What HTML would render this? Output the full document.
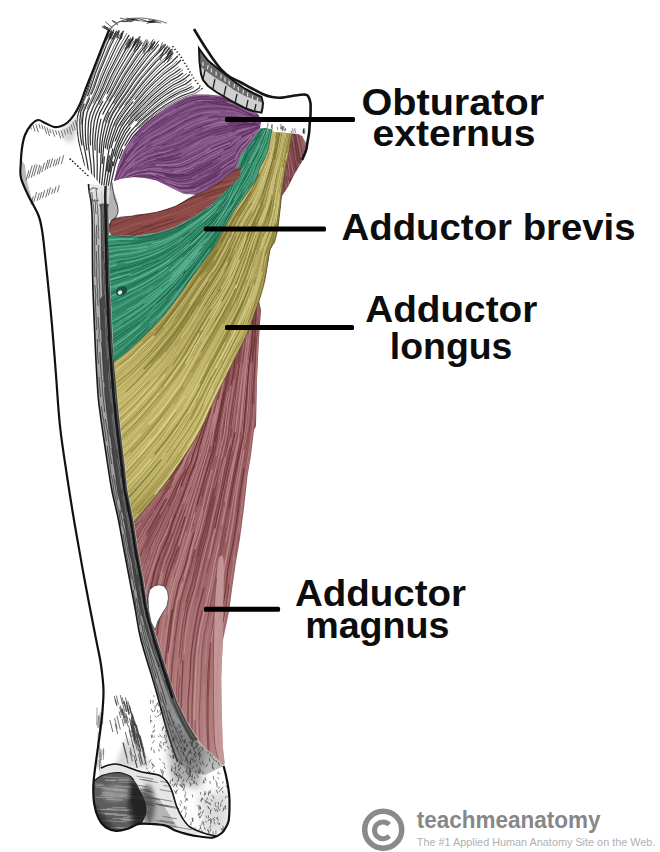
<!DOCTYPE html>
<html><head><meta charset="utf-8"><style>
html,body{margin:0;padding:0;background:#fff;}
svg{display:block;}
</style></head><body>
<svg width="660" height="852" viewBox="0 0 660 852">
<defs><filter id="bl" x="-20%" y="-20%" width="140%" height="140%"><feGaussianBlur stdDeviation="4"/></filter><filter id="bl2" x="-20%" y="-20%" width="140%" height="140%"><feGaussianBlur stdDeviation="2"/></filter><clipPath id="cf"><path d="M108.5,31.5L114.0,28.0L121.0,29.0L130.0,33.0L140.0,36.0L150.0,38.0L160.0,40.0L168.0,44.0L174.0,50.0L180.0,58.0L186.0,68.0L193.0,80.0L203.0,89.7L195.8,94.5L186.0,97.0L176.0,101.8L166.0,107.5L157.0,114.0L144.0,124.0L132.7,136.0L124.0,150.0L118.0,165.0L114.0,180.0L110.0,196.0L84.0,165.0L78.0,142.0L76.0,125.0L77.0,114.0L82.0,102.0L86.7,89.7L91.0,75.0L96.4,60.6L102.0,45.0L108.5,31.5Z"/></clipPath><clipPath id="crd"><path d="M88.5,184.0L89.0,190.0L92.0,213.0L92.7,280.0L95.0,340.0L96.5,370.0L98.5,400.0L102.5,430.0L107.0,460.0L111.8,490.0L118.5,520.0L124.0,550.0L129.7,580.0L135.4,610.0L141.0,640.0L155.0,687.0L168.0,734.0L177.6,762.0L190.0,772.0L205.0,775.0L224.0,766.0L224.6,764.0L215.0,756.5L202.0,745.0L188.9,724.6L177.6,702.0L166.3,668.0L159.0,645.0L155.0,632.0L151.0,620.0L147.5,605.0L143.8,580.0L138.2,550.0L134.0,522.0L127.8,490.0L124.5,460.0L121.0,430.0L118.0,400.0L115.0,365.0L113.0,340.0L110.3,280.0L109.0,213.0L109.0,195.0L110.0,186.0Z"/></clipPath><linearGradient id="rg" gradientUnits="userSpaceOnUse" x1="0" y1="186" x2="0" y2="780"><stop offset="0" stop-color="#e8e8e8"/><stop offset="0.1" stop-color="#b4b4b4"/><stop offset="0.4" stop-color="#a0a0a0"/><stop offset="0.7" stop-color="#9a9a9a"/><stop offset="0.88" stop-color="#8c8c8c"/><stop offset="1" stop-color="#c8c8c8"/></linearGradient><linearGradient id="mg" gradientUnits="userSpaceOnUse" x1="0" y1="300" x2="0" y2="770"><stop offset="0" stop-color="#82484e"/><stop offset="0.45" stop-color="#92585c"/><stop offset="1" stop-color="#b88484"/></linearGradient><clipPath id="cm"><path d="M292.0,133.5L298.0,134.0L302.0,136.0L306.0,143.0L305.0,151.0L303.4,159.0L300.0,165.0L296.0,171.5L292.0,179.0L288.0,187.0L282.0,196.0L275.0,227.0L268.0,250.0L262.0,280.0L258.0,296.0L261.0,310.0L259.0,338.0L257.0,380.0L256.0,426.0L254.0,430.0L251.0,455.0L247.5,476.0L244.0,508.0L240.0,538.5L236.0,562.0L232.5,586.0L229.0,612.0L223.0,640.0L221.0,677.0L221.8,715.0L222.7,745.0L224.6,764.0L215.0,756.5L202.0,745.0L188.9,724.6L177.6,702.0L166.3,668.0L159.0,645.0L155.0,632.0L151.0,620.0L147.5,605.0L143.8,580.0L138.2,550.0L134.0,522.0L150.0,503.0L165.0,484.0L175.0,470.0L185.0,455.0L194.0,441.0L202.5,426.0L211.0,407.0L220.0,388.0L234.0,360.0L247.5,333.0L254.0,315.0L260.4,296.4L265.0,279.5L270.0,250.0L274.5,242.0L278.0,227.0L280.0,210.0L282.0,191.0L283.7,178.6L286.0,165.0L289.0,150.4L292.0,133.5Z"/></clipPath><linearGradient id="yg" gradientUnits="userSpaceOnUse" x1="0" y1="130" x2="0" y2="525"><stop offset="0" stop-color="#988a44"/><stop offset="0.33" stop-color="#9c8e48"/><stop offset="0.5" stop-color="#a89a50"/><stop offset="0.66" stop-color="#c0b266"/><stop offset="0.85" stop-color="#bcae62"/><stop offset="1" stop-color="#a89a52"/></linearGradient><clipPath id="cy"><path d="M271.7,129.3L273.8,132.0L283.0,132.5L292.0,133.5L289.0,150.4L286.0,165.0L283.7,178.6L282.0,191.0L280.0,210.0L278.0,227.0L274.5,242.0L270.0,250.0L265.0,279.5L260.4,296.4L254.0,315.0L247.5,333.0L234.0,360.0L220.0,388.0L211.0,407.0L202.5,426.0L194.0,441.0L185.0,455.0L175.0,470.0L165.0,484.0L150.0,503.0L134.0,522.0L127.8,490.0L124.5,460.0L121.0,430.0L118.0,400.0L114.0,362.0L127.0,352.0L140.0,340.0L152.0,328.0L165.0,314.0L178.0,297.0L190.0,280.0L203.0,262.0L215.0,245.5L225.6,225.0L232.5,213.0L242.0,200.0L249.0,190.0L255.7,180.0L259.7,168.0L264.0,160.0L268.0,150.0L270.0,140.0L271.7,129.3Z"/></clipPath><clipPath id="cg"><path d="M259.7,128.6L265.0,128.0L271.7,129.3L270.0,140.0L268.0,150.0L264.0,160.0L259.7,168.0L255.7,180.0L249.0,190.0L242.0,200.0L232.5,213.0L225.6,225.0L215.0,245.5L203.0,262.0L190.0,280.0L178.0,297.0L165.0,314.0L152.0,328.0L140.0,340.0L127.0,352.0L114.0,362.0L111.0,300.0L108.0,235.0L111.4,235.0L134.0,236.0L156.8,232.7L175.0,227.0L195.5,215.7L213.6,203.0L227.0,189.5L230.0,176.0L234.0,165.0L240.0,152.0L248.0,140.0L254.0,132.0Z"/></clipPath><clipPath id="cr"><path d="M109.0,224.0L113.6,219.0L134.0,215.7L156.8,212.3L175.0,206.6L191.0,197.5L206.8,189.5L220.5,181.6L229.5,173.6L236.4,169.0L241.0,167.0L240.0,176.0L236.4,180.5L227.0,189.5L213.6,203.0L195.5,215.7L175.0,227.0L156.8,232.7L134.0,236.0L111.4,235.0L109.0,231.0Z"/></clipPath><clipPath id="cp"><path d="M114.0,181.0L118.0,165.0L124.0,150.0L132.7,136.0L144.0,124.0L157.0,114.0L166.0,107.5L176.0,101.8L186.0,97.0L195.8,94.5L208.0,94.5L220.0,95.8L232.0,100.0L243.0,106.0L251.0,110.5L258.0,114.0L261.0,120.0L260.0,128.5L254.0,138.0L247.6,146.7L240.0,157.0L236.4,169.0L229.5,173.6L220.5,181.6L206.8,189.5L196.0,194.5L184.0,194.0L172.7,188.4L156.8,180.5L145.0,178.0L134.0,177.0L122.0,178.5Z"/></clipPath><clipPath id="ct"><path d="M199.0,48.5L203.0,54.0L208.0,60.6L217.0,68.0L226.4,75.0L235.0,82.0L244.5,88.5L253.0,93.0L261.5,97.0L263.0,103.0L262.5,108.0L261.5,112.7L253.0,111.0L244.5,108.0L235.0,103.0L226.4,98.0L217.0,92.5L208.0,86.0L203.0,80.0L201.0,74.0L199.5,62.0Z"/></clipPath><clipPath id="cb"><path d="M96.0,700.0L103.0,690.0L230.0,690.0L232.0,840.0L90.0,840.0Z"/></clipPath><clipPath id="cst"><path d="M150.0,690.0L175.0,720.0L200.0,745.0L224.0,764.0L229.0,800.0L228.0,826.0L214.0,837.0L200.0,834.0L183.0,818.0L176.0,805.0L171.0,790.0L160.0,776.0L140.0,770.0L150.0,745.0Z"/></clipPath><clipPath id="cbd"><path d="M101.0,768.0C103.4,765.9 109.8,764.1 114.4,764.0C119.0,763.9 122.3,765.9 128.5,767.5C134.7,769.1 146.2,772.3 151.4,773.6C156.6,774.9 157.1,774.2 159.7,775.5C162.3,776.8 165.0,779.0 167.0,781.5C169.0,784.0 170.2,786.6 171.8,790.6C173.4,794.6 174.6,801.2 176.4,805.8C178.2,810.4 180.1,814.5 182.4,818.0C184.7,821.5 186.5,824.5 190.0,827.0C193.5,829.5 203.6,831.8 203.6,833.0C203.6,834.2 194.6,834.4 190.0,834.0C185.4,833.6 180.1,832.2 176.0,830.8C171.9,829.4 169.6,826.7 165.5,825.6C161.4,824.5 155.8,824.3 151.4,824.0C147.0,823.7 139.8,825.8 139.0,824.0C138.2,822.2 145.2,816.0 146.5,813.0C147.8,810.0 147.4,809.5 146.5,806.0C145.6,802.5 143.1,796.3 141.0,792.0C138.9,787.7 136.7,783.0 134.0,780.0C131.3,777.0 128.7,775.2 125.0,774.0C121.3,772.8 116.2,772.6 112.0,773.0C107.8,773.4 101.8,777.3 100.0,776.5C98.2,775.7 98.6,770.1 101.0,768.0Z"/></clipPath><clipPath id="ccd"><path d="M94.0,781.0C95.1,778.8 98.1,777.6 100.0,776.5C101.9,775.4 103.6,775.1 105.6,774.5C107.6,773.9 109.7,773.3 112.0,773.0C114.3,772.7 117.5,772.5 119.7,772.7C121.9,772.9 123.2,773.4 125.0,774.0C126.8,774.6 128.8,775.3 130.3,776.3C131.8,777.3 132.8,778.5 134.0,780.0C135.2,781.5 136.1,783.0 137.3,785.0C138.5,787.0 139.8,789.7 141.0,792.0C142.2,794.3 143.4,796.7 144.3,799.0C145.2,801.3 146.1,803.7 146.5,806.0C146.9,808.3 146.9,810.8 146.5,813.0C146.1,815.2 144.9,817.2 144.0,819.0C143.1,820.8 142.3,822.7 140.8,823.8C139.3,824.9 137.3,824.6 135.0,825.5C132.7,826.4 130.2,828.1 127.0,829.0C123.8,829.9 119.6,831.1 116.0,830.8C112.4,830.5 108.5,829.3 105.6,827.3C102.7,825.2 100.5,822.4 98.6,818.5C96.7,814.6 95.1,808.8 94.2,804.0C93.3,799.2 93.3,793.8 93.3,790.0C93.3,786.2 92.9,783.2 94.0,781.0Z"/></clipPath></defs>
<rect width="660" height="852" fill="#fff"/>
<path d="M109.0,30.0L101.0,50.0L94.0,68.0L86.0,88.0L80.0,104.0L74.0,115.0L67.0,123.0L60.0,126.5L54.0,127.0L45.0,123.0L38.0,120.0L31.0,125.0L25.0,135.0L22.0,148.0L20.7,165.0L21.0,178.0L28.0,195.0L38.7,216.0L42.6,234.0L45.0,255.0L49.0,293.6L52.0,325.0L56.0,375.0L60.0,426.0L67.0,476.0L75.0,526.0L85.0,582.0L96.0,639.0L101.0,665.0L103.5,690.0L102.0,716.0L98.6,743.0L95.0,769.0L93.3,787.0L94.2,804.0L98.6,818.5L105.6,827.3L116.0,830.8L127.0,829.0L139.0,824.0L151.4,824.0L165.5,825.6L176.0,830.8L188.0,834.4L200.0,836.5L212.7,837.6L221.8,833.0L226.0,827.0L228.6,821.0L229.4,810.0L229.4,798.0L228.0,786.0L226.0,775.5L223.6,766.0L224.6,764.0L215.0,756.5L202.0,745.0L188.9,724.6L177.6,702.0L166.3,668.0L159.0,645.0L155.0,632.0L151.0,620.0L147.5,605.0L143.8,580.0L138.2,550.0L134.0,522.0L127.8,490.0L124.5,460.0L121.0,430.0L118.0,400.0L115.0,365.0L113.0,340.0L110.3,280.0L109.0,213.0L109.0,195.0L110.0,186.0L112.0,180.0L115.0,175.0L135.0,144.0L160.0,122.0L181.0,101.0L195.0,90.0L185.0,60.0L170.0,30.0L150.0,17.0L125.0,19.0Z" fill="#fff" />
<g clip-path="url(#cf)"><path d="M108.0 34.2L104.7 40.9L101.9 47.6L99.3 54.5L96.8 61.4L94.2 68.3L91.6 75.2L89.5 82.3L87.4 89.4L84.8 96.2L82.1 103.1L79.2 109.9L77.4 117.0L76.7 124.3L77.4 131.6L78.2 139.0L79.7 146.2L81.5 153.3L83.3 160.5L84.8 167.7L86.1 174.9L87.3 182.2L88.5 189.5M113.7 30.0L110.2 37.1L106.9 44.1L104.0 51.4L101.1 58.7L98.2 66.0L95.4 73.3L93.0 80.9L90.5 88.3L87.6 95.7M84.1 104.1L80.8 111.8L79.8 120.1L79.9 128.5L80.6 136.8L81.9 145.0M117.7 32.0L114.2 38.7L110.9 45.3L108.0 52.1L105.1 58.9L102.2 65.8L99.3 72.7L96.8 79.8L94.4 86.9L91.5 93.8M89.6 98.2L86.6 105.0L83.7 111.8L82.6 119.1L82.3 126.4L82.6 133.7L83.1 141.0L84.4 148.2L85.8 155.4L87.2 162.6L88.2 169.9L89.0 177.3L89.9 184.6M121.6 36.8L117.8 43.3L114.6 49.9L111.4 56.7L108.3 63.5L105.1 70.4L102.2 77.3L99.5 84.4L96.6 91.4L93.5 98.3L90.2 105.3L87.1 112.3L85.7 119.7L85.3 127.2L85.4 134.8L85.8 142.3L86.9 149.8M128.8 35.5L125.1 41.8L121.4 47.9L118.1 54.3L114.8 60.7L111.5 67.2L108.2 73.8L105.4 80.5L102.6 87.3L99.5 94.0L96.2 100.7L92.9 107.4L90.1 114.2L88.6 121.4L88.1 128.7L88.0 136.0L88.2 143.3L89.1 150.5L90.0 157.8L91.0 165.1L91.5 172.5L92.0 179.9M132.9 38.3L129.0 44.4L125.2 50.4L121.7 56.7L118.3 63.0L114.8 69.4L111.4 75.9L108.5 82.5L105.5 89.2L102.1 95.8L98.7 102.4L95.3 109.0L92.7 115.9L91.0 123.1L90.6 130.3L90.2 137.6L90.5 144.9M139.9 36.6L135.9 42.9L131.7 48.8L128.0 54.8L124.3 61.0L120.6 67.3L117.0 73.7L113.6 80.2L110.5 86.9L107.1 93.5M102.8 101.3L99.3 107.8L96.2 114.5L94.3 121.4L93.4 128.6L92.8 135.7L92.6 142.9L93.0 150.0L93.4 157.2L94.0 164.4L94.2 171.7L94.4 179.1M141.9 42.7L137.5 48.6L133.4 54.4L129.5 60.7L125.6 66.9L121.7 73.3L118.0 79.8L114.6 86.5L111.0 93.1L107.3 99.7L103.5 106.3L99.8 113.1L97.6 120.3L96.3 127.6L95.4 135.0L94.9 142.5L95.1 149.9M147.0 43.8L142.4 49.7L138.0 55.4L133.8 61.6L129.7 67.9L125.5 74.2L121.7 80.7L118.0 87.4L114.2 94.0L110.2 100.6L106.3 107.4L102.7 114.3M101.0 119.2L99.2 126.5L98.1 134.0L97.2 141.4L97.2 148.9L97.1 156.4L97.3 164.0L97.2 171.7L97.0 179.4L96.9 187.1L96.8 194.7M155.0 41.9L150.4 47.9L145.7 53.2L141.3 58.9L137.0 64.8L132.8 70.9L128.6 77.0L124.8 83.4L121.0 89.8L116.9 96.2L112.9 102.6L108.9 109.2L105.5 116.0L103.0 123.0L101.6 130.3L100.3 137.6L99.7 145.0L99.4 152.4M158.5 44.9L153.9 50.4L149.3 55.4L144.9 60.8L140.6 66.4L136.4 72.1L132.2 77.9L128.3 84.0L124.5 90.1L120.5 96.2L116.4 102.2L112.5 108.5L108.9 114.9L106.3 121.6L104.5 128.6L103.0 135.6L101.9 142.7L101.4 149.8L100.9 156.9L100.7 164.1L100.2 171.4L99.7 178.7L99.3 186.0L98.8 193.3M165.4 44.5L160.8 50.3L155.8 55.2L151.1 60.3L146.5 65.8L142.0 71.4L137.5 77.1L133.3 83.0L129.3 89.1L125.1 95.2L120.9 101.2L116.7 107.4L112.7 113.8L109.7 120.5L107.5 127.5L105.8 134.5L104.2 141.6L103.5 148.8L102.8 156.0L102.3 163.3M169.7 47.9L165.0 53.4L159.9 58.1L155.1 62.8L150.5 68.0L145.9 73.3L141.3 78.7L137.0 84.4L132.9 90.2L128.7 96.0L124.4 101.9L120.1 107.8L116.1 113.9L112.8 120.3L110.3 127.0L108.4 133.9L106.5 140.7L105.5 147.7M104.4 156.8L103.7 164.4L103.0 172.0L102.2 179.7L101.4 187.4L100.6 195.1M172.8 52.6L168.1 57.9L162.9 62.1L158.0 66.6L153.2 71.6L148.5 76.7L143.9 81.9L139.5 87.4L135.3 92.9L131.0 98.6L126.6 104.2L122.3 110.0L118.2 116.0L114.9 122.2L112.3 128.8L110.3 135.5L108.3 142.2L107.2 149.1M177.5 56.2L172.1 61.8L166.3 66.3L160.7 71.0L155.2 76.3L149.9 81.7L144.7 87.3L139.9 93.3L135.0 99.3M132.8 101.9L128.2 107.5L123.8 113.3L119.8 119.3L116.3 125.5L113.9 132.2L111.6 138.9L109.8 145.7L108.5 152.6L107.3 159.6L106.4 166.7L105.5 173.8L104.5 181.0L103.6 188.1L102.6 195.3M180.7 60.2L175.6 65.3L170.0 69.4L164.6 73.4L159.4 78.1L154.2 82.9L149.1 87.9L144.3 93.2L139.7 98.6L135.0 104.1L130.2 109.6L125.7 115.4L121.5 121.4L118.0 127.6L115.4 134.3L112.9 141.0L111.1 147.9M109.5 155.8L108.2 163.2L107.1 170.8M180.1 68.9L174.6 73.1L168.9 76.5L163.5 80.9L158.2 85.4L153.0 90.1L148.0 95.1L143.2 100.2L138.4 105.5L133.5 110.8L128.9 116.3L124.5 122.1L120.7 128.0L117.9 134.6L115.2 141.1M112.8 149.0L111.3 155.5L109.9 162.0L108.9 168.6L107.8 175.3L106.7 182.1L105.6 188.8L104.6 195.5M182.7 73.3L177.4 77.1L171.7 80.1L166.4 84.0L161.2 88.0L156.1 92.3L151.1 96.8L146.4 101.6L141.7 106.4L137.0 111.3L132.3 116.2L128.1 121.6L124.1 127.2L120.8 133.0L118.2 139.2L115.5 145.4L113.8 151.9L112.1 158.4L110.7 165.0L109.6 171.8M189.6 74.5L184.4 78.9L178.7 82.1L173.0 85.0L167.5 88.8L162.2 92.7L156.9 96.8L151.9 101.3L147.0 105.9L142.2 110.6L137.3 115.3L132.7 120.3L128.4 125.7L124.5 131.1L121.5 137.2L118.6 143.3L116.2 149.6L114.4 156.1M112.8 161.9L111.5 168.6L110.2 175.4L108.9 182.1L107.7 188.9L106.5 195.7M191.3 79.6L186.3 83.6L180.7 86.2L175.1 88.7L169.8 92.1L164.6 95.6L159.5 99.3L154.6 103.3L149.8 107.6L145.1 111.9L140.4 116.2L135.8 120.7M130.2 127.4L126.0 133.0L122.8 139.2L119.6 145.5L117.2 152.1L115.1 158.9L113.3 165.7M191.9 86.5L186.4 89.4L180.5 91.5L175.0 94.4L169.6 97.6L164.4 101.1L159.2 104.7L154.3 108.7L149.5 112.8L144.7 116.9L139.8 121.1L135.6 125.8L131.4 130.7L127.7 135.7L124.6 141.3L121.6 146.8L119.2 152.7L117.2 158.7L115.2 164.7L113.8 171.0L112.4 177.2L111.0 183.4L109.7 189.7M199.5 87.7L194.2 91.4L188.2 93.5L182.2 95.6L176.5 98.5L170.9 101.7L165.4 105.0L160.2 108.7L155.0 112.6L150.0 116.7L145.0 120.7L140.3 125.1L135.9 129.9L131.6 134.7L128.2 140.1L124.9 145.7M122.6 149.7L121.0 154.0L119.3 158.3" fill="none" stroke="#111" stroke-width="1.25" opacity="0.85" stroke-linecap="round"/><path d="M111.4 30.4L108.2 37.0L105.0 43.6L102.5 50.4L99.9 57.2L97.3 64.0L94.6 70.8L92.3 77.8L90.2 84.8L87.7 91.7L85.1 98.5L82.3 105.3L79.4 112.0M115.5 32.6L112.0 39.3L108.9 46.0L106.0 53.0L103.2 59.9L100.2 66.9L97.5 73.9L95.1 81.1L92.6 88.2L89.7 95.2L86.7 102.2L83.7 109.2L81.9 116.5L81.2 124.1M120.6 33.7L117.0 40.3L113.7 46.8L110.6 53.6L107.6 60.4L104.5 67.3L101.5 74.2L99.0 81.2L96.3 88.3L93.3 95.2L90.1 102.1L87.0 109.0M126.9 33.3L123.0 40.2L119.1 46.7L115.7 53.6L112.4 60.5L109.0 67.5L105.7 74.5L102.8 81.7L99.9 89.0L96.5 96.1L93.1 103.2M128.9 39.0L124.9 45.5L121.2 52.0L117.7 58.7L114.2 65.5L110.6 72.3L107.5 79.3L104.5 86.4L101.2 93.4L97.7 100.4M134.0 40.9L129.9 46.9L126.2 52.8L122.7 59.1L119.2 65.3L115.6 71.7L112.3 78.2L109.3 84.8L106.1 91.4L102.7 97.9L99.2 104.5M141.0 40.4L136.7 46.6L132.5 52.6L128.6 58.8L124.7 65.2L120.8 71.7L117.1 78.3L113.7 85.1L110.2 91.9L106.4 98.6M147.5 40.0L143.2 46.1L138.8 51.6L134.8 57.3L130.9 63.3L127.0 69.4L123.1 75.5L119.6 81.9L116.1 88.3L112.5 94.7L108.7 101.0M153.5 39.3L148.8 45.7L143.9 51.5L139.4 57.5L135.0 63.8L130.7 70.2L126.3 76.7L122.4 83.5L118.6 90.3L114.4 97.0M158.7 40.9L154.0 47.2L149.0 52.7L144.3 58.4L139.8 64.5L135.2 70.7L130.7 77.0L126.7 83.6L122.7 90.2L118.4 96.8L114.0 103.4M108.9 112.0L106.8 116.7L105.0 121.5M162.2 45.7L157.5 51.3L152.6 56.2L148.0 61.5L143.6 67.1L139.1 72.8L134.7 78.6L130.7 84.7L126.8 90.8L122.6 96.9L118.4 103.0L114.3 109.3L110.7 115.8L107.8 122.6M168.0 46.8L163.3 52.5L158.2 57.1L153.5 62.0L148.9 67.4L144.3 72.8L139.7 78.3L135.5 84.1L131.4 90.0L127.2 96.0L122.9 101.9L118.7 107.9M173.2 49.3L168.2 55.0L162.8 59.8L157.7 64.5L152.7 69.8L147.8 75.3L143.0 80.8L138.4 86.6L134.0 92.6L129.5 98.6L124.9 104.6M171.9 58.0L166.4 62.8L160.9 67.3L155.8 72.4L150.7 77.7L145.6 83.2L140.9 88.9L136.3 94.8L131.6 100.7L126.8 106.6L122.3 112.8L118.1 119.2L114.7 125.9M177.0 61.0L172.0 65.7L166.7 69.4L161.6 73.7L156.7 78.3L151.8 83.1L147.0 87.9L142.5 93.2L138.1 98.5L133.6 103.8M178.4 66.7L173.0 70.9L167.5 74.4L162.2 78.9L157.1 83.4L152.0 88.1L147.1 93.1L142.5 98.3L137.8 103.6L133.1 108.9L128.4 114.3L124.1 120.1L120.4 126.0M182.8 69.7L177.3 74.2L171.3 77.6L165.7 81.7L160.2 86.1L154.8 90.8L149.7 95.7L144.7 100.9L139.8 106.1L134.8 111.4L130.0 116.9M186.3 73.8L180.8 78.3L174.7 81.3L169.0 85.0L163.4 89.1L157.9 93.5L152.6 98.0L147.6 102.9L142.6 107.9L137.5 113.0L132.6 118.2L128.1 123.8M186.6 80.2L180.9 83.6L175.0 86.2L169.4 89.9L163.9 93.7L158.5 97.8L153.4 102.1L148.4 106.7L143.5 111.4L138.5 116.0L133.8 121.0L129.4 126.3M191.2 83.8L185.6 87.3L179.6 89.6L173.9 92.7L168.2 96.1L162.8 99.8L157.5 103.8L152.4 108.1L147.4 112.4L142.4 116.9L137.5 121.4M193.7 87.6L188.2 90.6L182.2 92.6L176.6 95.4L171.1 98.5L165.7 101.9L160.5 105.5L155.5 109.5L150.6 113.6L145.6 117.7L140.7 121.8L136.4 126.5M200.5 89.9L195.0 93.6L188.7 95.4L182.5 97.6L176.5 100.5L170.7 103.8L165.0 107.1L159.7 111.1L154.4 115.1L149.2 119.1L143.9 123.2L139.3 128.0" fill="none" stroke="#333" stroke-width="1.0" opacity="0.75" stroke-linecap="round"/></g>
<path d="M132.8 21.0l-3.3 0.8M110.2 30.4l-5.8 -4.4M154.0 21.1l-3.1 0.6M109.5 30.7l-7.1 -3.6M110.4 31.1l-5.7 -3.7M145.5 20.5l-7.6 -1.9M117.6 23.1l-5.3 -2.5M134.0 19.1l-7.2 1.2M126.2 21.6l-7.2 -0.1M151.8 22.1l-5.3 -0.8M112.0 27.6l-6.4 -5.7M132.8 19.5l-6.6 -1.4M140.1 20.9l-8.2 -1.3M133.5 20.5l-6.8 1.1M155.7 20.7l-6.8 -0.8M160.7 23.0l-8.6 -2.2M154.0 22.3l-4.8 -1.0M126.3 21.3l-3.5 0.1M152.6 21.9l-5.7 1.4M111.1 29.4l-7.1 -3.3M153.8 21.3l-3.8 0.7M149.8 21.8l-8.0 -0.8M135.3 18.9l-8.5 1.9M137.4 20.1l-4.7 -0.6M137.2 19.1l-8.1 -0.3M128.3 19.9l-7.9 -1.7M157.7 22.2l-8.8 -0.1M117.7 24.8l-5.1 -3.6M109.6 31.3l-7.2 -5.1M154.6 21.9l-6.4 0.0M132.1 39.4l-4.4 8.8M141.0 41.3l-3.5 8.6M169.9 50.6l-3.9 8.4M170.4 49.3l-3.3 5.2M138.8 39.9l-4.8 10.1M133.1 36.5l-4.3 10.7M137.4 38.5l-4.4 8.7M154.2 43.0l-2.5 5.9M154.7 41.0l-6.3 11.0M163.6 44.6l-7.0 10.1M172.0 48.9l-4.1 5.6M138.8 41.1l-4.7 10.5M148.4 42.2l-4.5 11.2M129.7 39.1l-3.5 5.8M133.6 38.8l-5.1 8.1M136.3 39.1l-2.1 5.2M152.6 40.7l-3.8 9.4M167.5 45.6l-7.9 11.4M171.9 51.6l-4.9 7.7M152.3 43.2l-4.4 7.7M169.0 47.5l-3.0 5.9M136.5 40.8l-3.1 5.7M166.9 46.4l-6.3 9.4M158.0 41.8l-5.6 7.7M171.5 49.9l-6.3 9.9M170.9 51.2l-6.7 11.1M147.5 40.9l-4.1 10.7M128.8 35.3l-4.1 7.1M172.4 51.9l-4.7 9.9M154.4 43.3l-5.0 6.9M165.1 47.1l-4.8 13.0M139.9 39.0l-3.1 8.1M132.9 37.7l-4.1 6.0M173.1 53.9l-5.9 8.2M130.8 39.6l-5.5 8.8M135.8 39.0l-3.6 8.5M130.9 37.7l-6.1 12.1M146.0 39.6l-3.8 6.5M162.4 42.6l-2.6 7.2M136.4 39.6l-5.2 10.6M110.7 31.9l-4.3 7.8M122.6 33.6l-2.1 5.8M113.3 32.5l-3.2 5.8M116.3 30.9l-3.9 8.0M111.5 31.8l-2.3 6.7M110.7 33.0l-1.4 6.5M119.2 31.5l-1.7 6.1M115.6 32.2l-2.8 7.4M123.3 31.2l-2.0 7.4M122.4 31.7l-3.0 7.3M113.6 32.0l-2.7 6.9M118.7 30.4l-1.9 7.5M123.7 31.0l-4.0 7.6M110.8 33.5l-1.7 5.1M111.4 31.6l-1.3 6.6M119.3 30.9l-2.6 6.2M116.4 31.3l-1.5 4.8M121.7 32.8l-0.9 4.3" stroke="#222" stroke-width="0.9" fill="none" opacity="0.8" stroke-linecap="round"/>
<path d="M108.5,31.5C109.2,30.6 111.1,27.7 113.0,26.0C114.9,24.3 117.7,22.6 120.0,21.5C122.3,20.4 124.8,20.0 127.0,19.5C129.2,19.0 130.5,18.6 133.0,18.3C135.5,18.1 139.2,17.9 142.0,18.0C144.8,18.1 147.3,18.6 150.0,19.0C152.7,19.4 155.2,19.8 158.0,20.5C160.8,21.2 165.2,22.8 166.7,23.3" fill="none" stroke="#555" stroke-width="1.1" opacity="0.8"/>
<path d="M172.0 47.0l1.8 -0.6M174.1 49.7l1.8 -0.6M176.3 52.3l1.8 -0.6M178.4 55.0l1.8 -0.6M180.4 57.7l1.8 -0.6M182.2 60.6l1.8 -0.6M183.9 63.6l1.8 -0.6M185.7 66.5l1.8 -0.6M187.4 69.4l1.8 -0.6M189.1 72.4l1.8 -0.6M190.9 75.3l1.8 -0.6M192.6 78.3l1.8 -0.6M194.6 81.0l1.8 -0.6M196.7 83.7l1.8 -0.6M198.9 86.3l1.8 -0.6M201.0 89.0l1.8 -0.6" stroke="#333" stroke-width="1.2" fill="none"/>
<path d="M26.1 180.5l2.8 -10.1M28.6 178.2l3.6 -12.7M31.3 177.7l3.7 -13.2M33.9 176.2l3.3 -11.7M37.1 174.6l2.7 -9.7M39.1 174.2l2.3 -8.1M41.8 172.3l2.7 -9.6M45.0 170.4l2.9 -10.5M47.2 169.0l2.7 -9.7M49.9 167.8l2.7 -9.6M53.1 166.5l2.0 -7.1M55.5 166.1l2.1 -7.6M58.0 164.7l2.2 -8.0M61.3 163.9l2.5 -8.8M31.0 204.6l2.3 -8.2M33.7 202.5l2.9 -10.4M37.1 200.8l2.2 -7.9M39.6 199.7l2.2 -7.7M42.5 198.1l2.2 -8.0M45.7 197.4l2.4 -8.6M48.4 195.4l2.2 -8.0M51.5 194.2l1.5 -5.4M54.1 193.4l1.9 -6.8M57.4 192.3l2.0 -7.2M30.0 125.0l1.3 4.3M33.0 124.7l2.0 6.7M35.9 124.4l2.4 7.9M38.9 124.1l1.3 4.4M41.7 124.8l1.3 4.4M44.3 126.2l2.3 7.7M47.0 127.5l2.5 8.5M49.6 128.8l1.3 4.4M52.5 129.5l2.2 7.2M55.5 130.1l1.4 4.7M58.4 130.7l2.3 7.7M61.2 130.5l2.2 7.2M64.0 129.5l1.6 5.2M66.8 128.4l1.5 5.1M69.1 126.7l2.3 7.8M71.1 124.5l2.0 6.6M73.0 122.2l2.3 7.8M75.0 120.0l1.8 6.0" stroke="#333" stroke-width="0.9" fill="none" opacity="0.8"/>
<path d="M69.5 158.6l1.5 1M72.0 160.9l1.5 1M74.5 163.3l1.5 1M77.0 165.6l1.5 1M79.5 168.0l1.5 1M82.0 170.3l1.5 1M84.5 172.7l1.5 1M87.0 175.0l1.5 1" stroke="#222" stroke-width="1.3" fill="none"/>
<path d="M21.5,160.0C21.6,163.0 21.2,172.7 22.0,178.0C22.8,183.3 24.2,187.5 26.0,192.0C27.8,196.5 31.2,201.7 33.0,205.0C34.8,208.3 37.3,213.5 37.0,212.0C36.7,210.5 32.7,201.3 31.0,196.0C29.3,190.7 28.0,185.2 27.0,180.0C26.0,174.8 25.3,167.5 25.0,165.0" fill="#666" opacity="0.45"/>
<path d="M60.0,129.0C61.3,128.3 65.5,127.2 68.0,125.0C70.5,122.8 73.3,115.8 75.0,116.0C76.7,116.2 78.5,121.7 78.0,126.0C77.5,130.3 74.3,139.7 72.0,142.0C69.7,144.3 65.3,140.3 64.0,140.0" fill="#888" opacity="0.35" filter="url(#bl2)"/>
<path d="M88.5,184.0L89.0,190.0L92.0,213.0L92.7,280.0L95.0,340.0L96.5,370.0L98.5,400.0L102.5,430.0L107.0,460.0L111.8,490.0L118.5,520.0L124.0,550.0L129.7,580.0L135.4,610.0L141.0,640.0L155.0,687.0L168.0,734.0L177.6,762.0L190.0,772.0L205.0,775.0L224.0,766.0L224.6,764.0L215.0,756.5L202.0,745.0L188.9,724.6L177.6,702.0L166.3,668.0L159.0,645.0L155.0,632.0L151.0,620.0L147.5,605.0L143.8,580.0L138.2,550.0L134.0,522.0L127.8,490.0L124.5,460.0L121.0,430.0L118.0,400.0L115.0,365.0L113.0,340.0L110.3,280.0L109.0,213.0L109.0,195.0L110.0,186.0Z" fill="url(#rg)" />
<g clip-path="url(#crd)"><path d="M99.9,204.0C98.6,204.7 100.1,206.7 100.2,208.0C100.3,209.3 100.4,210.7 100.4,212.0C100.5,213.3 100.5,214.7 100.5,216.0C100.6,217.3 100.6,218.7 100.6,220.0C100.6,221.3 100.6,222.7 100.7,224.0C100.7,225.3 100.7,226.7 100.7,228.0C100.7,229.3 100.8,230.7 100.8,232.0C100.8,233.3 100.8,234.7 100.8,236.0C100.9,237.3 100.9,238.7 100.9,240.0C100.9,241.3 100.9,242.7 101.0,244.0C101.0,245.3 101.0,246.7 101.0,248.0C101.0,249.3 101.1,250.7 101.1,252.0C101.1,253.3 101.1,254.7 101.1,256.0C101.2,257.3 101.2,258.7 101.2,260.0C101.2,261.3 101.2,262.7 101.3,264.0C101.3,265.3 101.3,266.7 101.3,268.0C101.3,269.3 101.4,270.7 101.4,272.0C101.4,273.3 101.4,274.7 101.4,276.0C101.5,277.3 101.5,278.7 101.5,280.0C101.5,281.3 101.6,282.7 101.7,284.0C101.7,285.3 101.8,286.7 101.8,288.0C101.9,289.3 101.9,290.7 102.0,292.0C102.1,293.3 102.5,294.7 102.2,296.0C101.8,297.3 100.2,298.7 99.9,300.0C99.5,301.3 100.0,302.7 100.0,304.0C100.1,305.3 100.1,306.7 100.2,308.0C100.2,309.3 100.3,310.7 100.3,312.0C100.4,313.3 100.4,314.7 100.5,316.0C100.6,317.3 100.6,318.7 100.7,320.0C100.7,321.3 100.8,322.7 100.8,324.0C100.9,325.3 100.9,326.7 101.0,328.0C101.0,329.3 101.1,330.7 101.2,332.0C101.2,333.3 101.3,334.7 101.3,336.0C101.4,337.3 101.4,338.7 101.5,340.0C101.5,341.3 101.6,342.7 101.7,344.0C101.8,345.3 101.9,346.7 102.0,348.0C102.0,349.3 102.1,350.7 102.2,352.0C102.3,353.3 102.4,354.7 102.5,356.0C102.5,357.3 102.6,358.7 102.7,360.0C102.8,361.3 102.9,362.7 102.9,364.0C103.0,365.3 103.1,366.7 103.2,368.0C103.3,369.3 103.4,370.7 103.5,372.0C103.6,373.3 103.7,374.7 103.8,376.0C103.9,377.3 104.0,378.7 104.0,380.0C104.1,381.3 104.2,382.7 104.3,384.0C104.4,385.3 104.5,386.7 104.6,388.0C104.7,389.3 104.8,390.7 104.9,392.0C105.0,393.3 105.1,394.7 105.2,396.0C105.3,397.3 105.4,398.7 105.5,400.0C105.6,401.3 105.8,402.7 106.0,404.0C106.2,405.3 106.3,406.7 106.5,408.0C106.7,409.3 106.8,410.7 107.0,412.0C107.1,413.3 107.3,414.7 107.5,416.0C107.6,417.3 107.8,418.7 107.9,420.0C108.1,421.3 108.3,422.7 108.4,424.0C108.6,425.3 108.8,426.7 108.9,428.0C109.1,429.3 109.3,430.7 109.4,432.0C109.6,433.3 109.8,434.7 110.0,436.0C110.2,437.3 110.4,438.7 110.5,440.0C110.7,441.3 110.9,442.7 111.1,444.0C111.3,445.3 111.5,446.7 111.6,448.0C111.8,449.3 112.0,450.7 112.2,452.0C112.4,453.3 112.6,454.7 112.7,456.0C112.9,457.3 113.1,458.7 113.3,460.0C113.5,461.3 113.7,462.7 113.9,464.0C114.1,465.3 114.2,466.7 114.4,468.0C114.6,469.3 114.8,470.7 115.0,472.0C115.2,473.3 115.4,474.7 115.6,476.0C115.8,477.3 116.0,478.7 116.1,480.0C116.3,481.3 116.5,482.7 116.7,484.0C116.9,485.3 117.1,486.7 117.3,488.0C117.5,489.3 117.7,490.7 118.0,492.0C118.2,493.3 118.6,494.7 118.8,496.0C119.1,497.3 119.4,498.7 119.7,500.0C120.0,501.3 120.3,502.7 120.5,504.0C120.8,505.3 121.1,506.7 121.4,508.0C121.7,509.3 122.0,510.7 122.2,512.0C122.5,513.3 122.8,514.7 123.1,516.0C123.4,517.3 123.7,518.7 123.9,520.0C124.2,521.3 124.4,522.7 124.7,524.0C124.9,525.3 125.1,526.7 125.3,528.0C125.6,529.3 125.8,530.7 126.0,532.0C126.3,533.3 126.5,534.7 126.7,536.0C126.9,537.3 127.2,538.7 127.4,540.0C127.6,541.3 127.9,542.7 128.1,544.0C128.3,545.3 128.5,546.7 128.8,548.0C129.0,549.3 129.2,550.7 129.5,552.0C129.7,553.3 130.0,554.7 130.2,556.0C130.5,557.3 130.7,558.7 131.0,560.0C131.3,561.3 131.5,562.7 131.8,564.0C132.0,565.3 132.3,566.7 132.5,568.0C132.8,569.3 133.0,570.7 133.3,572.0C133.5,573.3 133.8,574.7 134.0,576.0C134.3,577.3 134.5,578.7 134.8,580.0C135.0,581.3 135.2,582.7 135.5,584.0C135.7,585.3 135.9,586.7 136.2,588.0C136.4,589.3 136.6,590.7 136.9,592.0C137.1,593.3 137.3,594.7 137.6,596.0C137.8,597.3 138.0,598.7 138.3,600.0C138.5,601.3 138.8,602.7 139.1,604.0C139.4,605.3 139.7,606.7 140.0,608.0C140.4,609.3 140.7,610.7 141.0,612.0C141.3,613.3 141.6,614.7 142.0,616.0C142.3,617.3 142.6,618.7 142.9,620.0C143.3,621.3 143.7,622.7 144.1,624.0C144.4,625.3 144.8,626.7 145.2,628.0C145.6,629.3 146.0,630.7 146.4,632.0C146.7,633.3 147.1,634.7 147.5,636.0C147.9,637.3 148.2,638.7 148.6,640.0C149.0,641.3 149.5,642.7 150.0,644.0C150.5,645.3 150.9,646.7 151.4,648.0C151.9,649.3 152.3,650.7 152.8,652.0C153.3,653.3 153.7,654.7 154.2,656.0C154.7,657.3 155.1,658.7 155.6,660.0C156.1,661.3 156.5,662.7 157.0,664.0C157.5,665.3 157.9,666.7 158.4,668.0C158.9,669.3 159.4,670.7 159.9,672.0C160.3,673.3 160.8,674.7 161.3,676.0C161.8,677.3 162.3,678.7 162.7,680.0C163.2,681.3 163.7,682.7 164.2,684.0C164.7,685.3 165.2,686.7 165.6,688.0C166.1,689.3 166.6,690.7 167.1,692.0C167.5,693.3 168.0,694.7 168.5,696.0C169.0,697.3 169.4,698.7 169.9,700.0C170.4,701.3 171.0,702.7 171.6,704.0C172.1,705.3 172.8,706.7 173.4,708.0C174.1,709.3 174.7,710.7 175.3,712.0C176.0,713.3 176.6,714.7 177.2,716.0C177.9,717.3 178.5,718.7 179.2,720.0C179.8,721.3 180.4,722.7 181.1,724.0C181.8,725.3 182.6,726.7 183.4,728.0C184.2,729.3 185.0,730.7 185.8,732.0C186.6,733.3 187.4,734.7 188.2,736.0C189.1,737.3 189.2,739.3 190.7,740.0C192.3,740.7 196.9,740.7 197.6,740.0C198.4,739.3 196.0,737.3 195.1,736.0C194.3,734.7 193.4,733.3 192.6,732.0C191.8,730.7 190.9,729.3 190.1,728.0C189.3,726.7 188.4,725.3 187.7,724.0C186.9,722.7 186.4,721.3 185.7,720.0C185.0,718.7 184.4,717.3 183.7,716.0C183.1,714.7 182.4,713.3 181.8,712.0C181.1,710.7 180.5,709.3 179.8,708.0C179.2,706.7 178.4,705.3 177.8,704.0C177.2,702.7 176.7,701.3 176.2,700.0C175.7,698.7 175.3,697.3 174.9,696.0C174.4,694.7 174.0,693.3 173.6,692.0C173.1,690.7 172.7,689.3 172.2,688.0C171.8,686.7 171.4,685.3 170.9,684.0C170.5,682.7 170.0,681.3 169.6,680.0C169.2,678.7 168.7,677.3 168.3,676.0C167.8,674.7 167.4,673.3 166.9,672.0C166.5,670.7 166.1,669.3 165.6,668.0C165.2,666.7 164.8,665.3 164.4,664.0C163.9,662.7 163.5,661.3 163.1,660.0C162.7,658.7 162.2,657.3 161.8,656.0C161.4,654.7 161.0,653.3 160.6,652.0C160.1,650.7 159.7,649.3 159.3,648.0C158.9,646.7 158.4,645.3 158.0,644.0C157.6,642.7 157.2,641.3 156.8,640.0C156.4,638.7 156.0,637.3 155.6,636.0C155.2,634.7 154.8,633.3 154.4,632.0C154.0,630.7 153.5,629.3 153.1,628.0C152.6,626.7 152.2,625.3 151.8,624.0C151.3,622.7 150.8,621.3 150.5,620.0C150.1,618.7 149.8,617.3 149.5,616.0C149.2,614.7 148.9,613.3 148.6,612.0C148.3,610.7 148.0,609.3 147.7,608.0C147.4,606.7 147.1,605.3 146.8,604.0C146.6,602.7 146.4,601.3 146.2,600.0C146.0,598.7 145.8,597.3 145.6,596.0C145.4,594.7 145.2,593.3 145.0,592.0C144.8,590.7 144.6,589.3 144.4,588.0C144.2,586.7 144.0,585.3 143.8,584.0C143.6,582.7 143.5,581.3 143.2,580.0C143.0,578.7 142.7,577.3 142.5,576.0C142.2,574.7 142.0,573.3 141.7,572.0C141.5,570.7 141.2,569.3 141.0,568.0C140.7,566.7 140.5,565.3 140.2,564.0C140.0,562.7 139.7,561.3 139.5,560.0C139.3,558.7 139.0,557.3 138.8,556.0C138.5,554.7 138.2,553.3 138.0,552.0C137.8,550.7 137.5,549.3 137.3,548.0C137.1,546.7 136.9,545.3 136.7,544.0C136.5,542.7 136.3,541.3 136.1,540.0C135.9,538.7 135.7,537.3 135.5,536.0C135.3,534.7 135.1,533.3 134.9,532.0C134.7,530.7 134.5,529.3 134.3,528.0C134.1,526.7 133.9,525.3 133.7,524.0C133.5,522.7 133.3,521.3 133.0,520.0C132.8,518.7 132.5,517.3 132.2,516.0C132.0,514.7 131.7,513.3 131.4,512.0C131.2,510.7 130.9,509.3 130.7,508.0C130.4,506.7 130.1,505.3 129.9,504.0C129.6,502.7 129.4,501.3 129.1,500.0C128.8,498.7 128.6,497.3 128.3,496.0C128.1,494.7 127.8,493.3 127.5,492.0C127.3,490.7 127.1,489.3 126.9,488.0C126.8,486.7 126.6,485.3 126.5,484.0C126.3,482.7 126.2,481.3 126.0,480.0C125.9,478.7 125.7,477.3 125.6,476.0C125.4,474.7 125.3,473.3 125.1,472.0C125.0,470.7 124.8,469.3 124.7,468.0C124.5,466.7 124.4,465.3 124.2,464.0C124.1,462.7 124.0,461.3 123.8,460.0C123.6,458.7 123.5,457.3 123.3,456.0C123.2,454.7 123.0,453.3 122.9,452.0C122.7,450.7 122.5,449.3 122.4,448.0C122.2,446.7 122.1,445.3 121.9,444.0C121.8,442.7 121.6,441.3 121.4,440.0C121.3,438.7 121.1,437.3 121.0,436.0C120.8,434.7 120.6,433.3 120.5,432.0C120.3,430.7 120.2,429.3 120.1,428.0C119.9,426.7 119.8,425.3 119.7,424.0C119.5,422.7 119.4,421.3 119.2,420.0C119.1,418.7 119.0,417.3 118.8,416.0C118.7,414.7 118.6,413.3 118.4,412.0C118.3,410.7 118.2,409.3 118.0,408.0C117.9,406.7 117.8,405.3 117.6,404.0C117.5,402.7 117.3,401.3 117.2,400.0C117.1,398.7 117.0,397.3 116.9,396.0C116.8,394.7 116.7,393.3 116.5,392.0C116.4,390.7 116.3,389.3 116.2,388.0C116.1,386.7 116.0,385.3 115.9,384.0C115.7,382.7 115.6,381.3 115.5,380.0C115.4,378.7 115.3,377.3 115.2,376.0C115.1,374.7 115.0,373.3 114.8,372.0C114.7,370.7 114.6,369.3 114.5,368.0C114.4,366.7 114.3,365.3 114.2,364.0C114.1,362.7 114.0,361.3 113.9,360.0C113.8,358.7 113.6,357.3 113.5,356.0C113.4,354.7 113.3,353.3 113.2,352.0C113.1,350.7 113.0,349.3 112.9,348.0C112.8,346.7 112.7,345.3 112.6,344.0C112.5,342.7 112.4,341.3 112.3,340.0C112.2,338.7 112.2,337.3 112.1,336.0C112.0,334.7 112.0,333.3 111.9,332.0C111.9,330.7 111.8,329.3 111.7,328.0C111.7,326.7 111.6,325.3 111.6,324.0C111.5,322.7 111.4,321.3 111.4,320.0C111.3,318.7 111.3,317.3 111.2,316.0C111.1,314.7 111.1,313.3 111.0,312.0C111.0,310.7 110.9,309.3 110.8,308.0C110.8,306.7 110.7,305.3 110.7,304.0C110.6,302.7 110.6,301.3 110.5,300.0C110.4,298.7 110.4,297.3 110.3,296.0C110.3,294.7 110.2,293.3 110.1,292.0C110.1,290.7 110.0,289.3 110.0,288.0C109.9,286.7 109.8,285.3 109.8,284.0C109.7,282.7 109.6,281.3 109.6,280.0C109.6,278.7 109.5,277.3 109.5,276.0C109.5,274.7 109.5,273.3 109.4,272.0C109.4,270.7 109.4,269.3 109.4,268.0C109.3,266.7 109.3,265.3 109.3,264.0C109.3,262.7 109.2,261.3 109.2,260.0C109.2,258.7 109.2,257.3 109.1,256.0C109.1,254.7 109.1,253.3 109.1,252.0C109.0,250.7 109.0,249.3 109.0,248.0C109.0,246.7 108.9,245.3 108.9,244.0C108.9,242.7 108.9,241.3 108.8,240.0C108.8,238.7 108.8,237.3 108.8,236.0C108.7,234.7 108.7,233.3 108.7,232.0C108.7,230.7 108.6,229.3 108.6,228.0C108.6,226.7 108.6,225.3 108.5,224.0C108.5,222.7 108.5,221.3 108.5,220.0C108.4,218.7 108.4,217.3 108.4,216.0C108.4,214.7 108.3,213.3 108.3,212.0C108.3,210.7 108.3,209.3 108.3,208.0C108.3,206.7 109.7,204.7 108.3,204.0C106.9,203.3 101.3,203.3 99.9,204.0Z" fill="#3c3c3c" opacity="0.9"/></g>
<g clip-path="url(#crd)"><path d="M91.8,192.0L92.2,197.0L92.8,202.0L93.5,207.0L94.1,212.0L94.4,217.0L94.1,222.0L94.5,227.0L94.4,232.0L94.6,237.0L94.6,242.0L94.7,247.0L94.8,252.0L94.9,257.0L94.7,262.0L94.7,267.0L94.9,272.0L95.0,277.0M94.7,285.0L95.4,290.0L95.8,295.0L95.5,300.0L95.5,305.0L95.7,310.0L96.1,315.0L96.2,320.0L96.9,325.0L96.4,330.0M97.2,339.0L97.6,344.0L97.4,349.0L97.6,354.0L98.1,359.0L98.5,364.0M98.9,377.0L99.3,382.0L99.7,387.0L100.1,392.0L100.8,397.0M101.4,406.0L102.1,411.0L102.6,416.0L103.8,421.0L104.1,426.0L104.9,431.0L105.8,436.0L106.3,441.0M107.4,446.0L107.7,451.0L108.6,456.0L109.6,461.0L110.0,466.0L110.6,471.0L111.2,476.0L112.7,481.0L113.3,486.0L113.8,491.0L115.1,496.0L116.2,501.0L117.1,506.0L118.7,511.0L119.6,516.0L120.3,521.0L121.0,526.0M123.1,534.0L123.9,539.0L124.7,544.0L125.3,549.0L126.2,554.0L127.3,559.0L128.2,564.0L129.6,569.0L130.3,574.0L131.3,579.0M133.3,590.0L133.9,595.0L135.3,600.0L135.6,605.0L137.2,610.0L138.2,615.0L139.2,620.0L139.6,625.0M141.0,632.0L142.4,637.0L143.5,642.0L145.4,647.0L146.6,652.0L148.4,657.0L149.4,662.0L151.3,667.0L152.5,672.0L154.4,677.0L155.3,682.0L157.4,687.0L158.3,692.0L160.0,697.0L161.4,702.0M162.4,706.0L163.9,711.0L165.3,716.0L167.0,721.0L168.6,726.0L170.4,731.0L171.9,736.0L174.0,741.0L175.5,746.0L177.9,751.0L180.2,756.0L182.9,761.0M94.6,199.0L95.4,204.0L95.5,209.0L96.1,214.0M96.6,225.0L96.5,230.0L96.1,235.0L96.5,240.0L96.3,245.0M96.4,251.0L96.5,256.0L96.6,261.0L96.9,266.0L96.6,271.0L96.6,276.0L97.1,281.0L97.0,286.0L97.7,291.0L97.6,296.0L97.9,301.0L97.8,306.0M98.1,317.0L98.3,322.0L98.9,327.0L99.2,332.0L98.9,337.0L99.4,342.0M99.7,352.0L100.1,357.0L100.3,362.0L100.6,367.0L101.1,372.0L101.2,377.0L102.2,382.0L102.2,387.0L102.6,392.0L103.1,397.0L103.6,402.0L104.3,407.0L104.6,412.0M105.2,419.0L106.1,424.0L107.0,429.0L107.9,434.0L108.4,439.0L109.1,444.0L109.7,449.0L110.0,454.0L110.9,459.0L111.7,464.0M113.3,475.0L114.2,480.0L115.1,485.0L115.9,490.0L116.8,495.0L117.5,500.0M120.0,510.0L120.9,515.0L122.1,520.0L122.7,525.0L124.1,530.0L125.2,535.0L125.7,540.0L126.7,545.0L127.7,550.0L128.1,555.0L129.7,560.0L130.3,565.0L131.0,570.0L131.8,575.0L132.9,580.0L134.0,585.0L135.0,590.0M136.2,598.0L137.2,603.0L137.9,608.0L139.6,613.0L139.9,618.0L141.6,623.0L142.4,628.0L143.5,633.0L144.6,638.0L145.7,643.0L147.7,648.0L149.3,653.0L150.6,658.0L152.0,663.0L153.1,668.0L155.2,673.0L156.3,678.0M160.7,692.0L162.4,697.0L163.3,702.0L165.3,707.0L166.5,712.0L168.2,717.0L169.9,722.0L172.3,727.0M176.4,739.0L178.7,744.0L181.3,749.0L183.7,754.0L186.6,759.0L191.0,764.0M96.1,189.0L96.5,194.0L97.0,199.0L97.1,204.0L97.8,209.0L97.9,214.0L98.3,219.0L98.1,224.0L98.5,229.0L98.0,234.0L98.6,239.0M98.6,245.0L98.6,250.0L98.6,255.0L98.9,260.0L99.0,265.0L99.1,270.0L99.2,275.0L99.0,280.0L99.6,285.0L99.7,290.0L99.9,295.0L99.8,300.0L100.0,305.0L100.3,310.0L100.8,315.0L100.7,320.0L100.9,325.0L101.0,330.0M101.2,342.0L102.1,347.0L102.5,352.0L102.7,357.0L102.9,362.0L103.3,367.0L103.3,372.0L103.9,377.0L103.9,382.0M104.6,387.0L104.8,392.0L104.9,397.0L105.9,402.0L106.4,407.0L106.8,412.0L107.4,417.0L108.1,422.0L108.6,427.0L109.1,432.0L110.5,437.0M111.9,448.0L112.3,453.0L113.3,458.0L113.5,463.0L114.6,468.0L115.2,473.0L116.2,478.0L116.2,483.0L117.5,488.0L117.9,493.0L119.3,498.0L120.7,503.0L121.0,508.0L122.2,513.0M123.4,519.0L125.0,524.0L125.8,529.0L126.3,534.0L127.1,539.0L128.2,544.0L128.6,549.0L129.5,554.0L131.1,559.0M132.5,566.0L133.5,571.0L134.0,576.0L134.7,581.0L135.7,586.0L137.0,591.0L137.9,596.0L138.2,601.0L139.6,606.0L140.3,611.0L141.4,616.0M143.8,625.0L144.4,630.0L145.9,635.0L146.7,640.0L148.7,645.0L149.6,650.0L151.2,655.0L153.2,660.0L154.4,665.0L156.4,670.0L157.9,675.0L159.3,680.0L160.4,685.0L162.4,690.0L164.1,695.0L165.2,700.0L166.5,705.0M168.8,710.0L170.2,715.0L172.0,720.0L173.8,725.0L176.2,730.0L178.4,735.0L180.3,740.0L182.8,745.0L186.1,750.0M190.7,758.0L195.2,763.0" fill="none" stroke="#2a2a2a" stroke-width="0.9" opacity="0.75"/><path d="M101.4,191.0L102.1,196.0L101.9,201.0L102.2,206.0L102.5,211.0L102.2,216.0L102.7,221.0L102.6,226.0L102.6,231.0L103.2,236.0L102.7,241.0L102.9,246.0L103.4,251.0M103.3,260.0L103.1,265.0L103.8,270.0L103.9,275.0L103.2,280.0L103.8,285.0L104.2,290.0L104.2,295.0M104.6,309.0L105.1,314.0L105.4,319.0L105.4,324.0L105.8,329.0L106.1,334.0L106.1,339.0L106.4,344.0L107.1,349.0L107.3,354.0L107.5,359.0M108.7,373.0L108.6,378.0L109.3,383.0L109.4,388.0L110.0,393.0L110.7,398.0L111.2,403.0M112.2,414.0L112.5,419.0L113.4,424.0L113.9,429.0L114.1,434.0L115.2,439.0L116.0,444.0L116.5,449.0M117.4,459.0L118.0,464.0L119.0,469.0L119.6,474.0L120.3,479.0L120.8,484.0L121.8,489.0M122.8,495.0L123.8,500.0L125.0,505.0L125.6,510.0L126.6,515.0L127.7,520.0L128.4,525.0L129.4,530.0L130.5,535.0L131.2,540.0L131.8,545.0L132.9,550.0L133.4,555.0L134.9,560.0L135.4,565.0L136.4,570.0L137.2,575.0M139.7,586.0L139.9,591.0L141.0,596.0L141.8,601.0L142.5,606.0L144.2,611.0L144.6,616.0L146.1,621.0L147.7,626.0L149.2,631.0L149.9,636.0L151.5,641.0L153.2,646.0L154.2,651.0L155.9,656.0L158.0,661.0M159.4,667.0L161.1,672.0L162.4,677.0L164.0,682.0L166.3,687.0L167.7,692.0L169.2,697.0L170.4,702.0L172.5,707.0L174.8,712.0M177.6,718.0L179.2,723.0L181.6,728.0L184.6,733.0L186.9,738.0L189.1,743.0L192.9,748.0L197.3,753.0L201.1,758.0L206.3,763.0M103.8,203.0L103.7,208.0L103.8,213.0L104.3,218.0L104.0,223.0L104.4,228.0L104.0,233.0L104.2,238.0L104.1,243.0L104.5,248.0L104.3,253.0L104.4,258.0L104.5,263.0M104.8,270.0L105.3,275.0L105.2,280.0L105.5,285.0L105.2,290.0L105.6,295.0L105.5,300.0L106.2,305.0L106.2,310.0M106.3,316.0L106.6,321.0L106.9,326.0L107.6,331.0L107.6,336.0M107.4,341.0L108.4,346.0L108.3,351.0L108.9,356.0L109.3,361.0L109.8,366.0L109.4,371.0L110.1,376.0L110.5,381.0M111.1,389.0L111.9,394.0L112.1,399.0L112.2,404.0L113.1,409.0L113.5,414.0L113.9,419.0L114.5,424.0L115.4,429.0L115.6,434.0L116.4,439.0L117.2,444.0L117.9,449.0L118.2,454.0L119.3,459.0L119.6,464.0L120.6,469.0M121.3,478.0L121.9,483.0L122.9,488.0L123.5,493.0L124.5,498.0L125.9,503.0M127.3,512.0L128.2,517.0L129.1,522.0L129.9,527.0L131.2,532.0L131.9,537.0L132.9,542.0L133.8,547.0L134.2,552.0M135.6,560.0L136.9,565.0L137.8,570.0L139.0,575.0L139.9,580.0L140.2,585.0L141.3,590.0L141.7,595.0L142.7,600.0L143.5,605.0L144.3,610.0L145.7,615.0L146.7,620.0L148.3,625.0L149.6,630.0L150.9,635.0L152.4,640.0M155.7,650.0L157.0,655.0L158.4,660.0L160.2,665.0L161.8,670.0L163.2,675.0L165.1,680.0M168.1,689.0L169.2,694.0L171.0,699.0L172.8,704.0L174.7,709.0L177.2,714.0L179.1,719.0L181.6,724.0L184.3,729.0L186.8,734.0L189.5,739.0L192.2,744.0M197.7,750.0L201.9,755.0L206.5,760.0M106.9,189.0L106.7,194.0L106.3,199.0L106.5,204.0L106.9,209.0L106.9,214.0L106.8,219.0L106.9,224.0L106.8,229.0L106.9,234.0L106.9,239.0M107.2,251.0L107.7,256.0L107.1,261.0L107.3,266.0L107.7,271.0L107.6,276.0L107.8,281.0L108.5,286.0L108.0,291.0L108.3,296.0L108.5,301.0L109.1,306.0L109.0,311.0L109.0,316.0L109.7,321.0L109.8,326.0L109.9,331.0M110.4,338.0L110.8,343.0L111.1,348.0L111.7,353.0L112.2,358.0L112.1,363.0L112.5,368.0L113.3,373.0L113.3,378.0L114.0,383.0L114.4,388.0L114.8,393.0L115.5,398.0L115.8,403.0M116.0,407.0L116.6,412.0L116.9,417.0L117.4,422.0L118.3,427.0L118.7,432.0L119.0,437.0L119.7,442.0L120.3,447.0L120.8,452.0L121.7,457.0L122.0,462.0L122.5,467.0M123.7,473.0L123.8,478.0L124.7,483.0L125.5,488.0L126.1,493.0L126.9,498.0M129.0,509.0L130.1,514.0L131.3,519.0L132.4,524.0L132.9,529.0L133.9,534.0L134.3,539.0L135.5,544.0L135.9,549.0L136.8,554.0L138.1,559.0L139.1,564.0L140.0,569.0L140.8,574.0L141.6,579.0L142.6,584.0L143.3,589.0M144.4,599.0L145.4,604.0L146.7,609.0L147.5,614.0L148.6,619.0L149.9,624.0L152.0,629.0L153.8,634.0L155.2,639.0L156.1,644.0L158.1,649.0L159.5,654.0L161.2,659.0L162.6,664.0L164.6,669.0L166.3,674.0M166.6,677.0L168.1,682.0L170.0,687.0L172.0,692.0L173.8,697.0L174.7,702.0L177.2,707.0L179.3,712.0L182.1,717.0L184.4,722.0L186.9,727.0L189.8,732.0L193.2,737.0L196.2,742.0M204.0,751.0L209.2,756.0L215.1,761.0" fill="none" stroke="#999" stroke-width="0.8" opacity="0.6"/></g>
<g clip-path="url(#crd)"><path d="M105.7,186.0L105.4,190.0L105.2,194.0L105.2,198.0L105.3,202.0L105.4,206.0L105.5,210.0L105.6,214.0L105.7,218.0L105.8,222.0L105.8,226.0L105.9,230.0L106.0,234.0L106.0,238.0L106.1,242.0L106.2,246.0L106.3,250.0L106.3,254.0L106.4,258.0L106.5,262.0L106.5,266.0L106.6,270.0L106.7,274.0L106.7,278.0L106.9,282.0L107.0,286.0L107.2,290.0L107.4,294.0L107.6,298.0L107.7,302.0L107.9,306.0L108.1,310.0L108.3,314.0L108.4,318.0L108.6,322.0L108.8,326.0L109.0,330.0L109.1,334.0L109.3,338.0L109.5,342.0L109.8,346.0L110.1,350.0L110.4,354.0L110.7,358.0L111.0,362.0L111.3,366.0L111.6,370.0L112.0,374.0L112.3,378.0L112.6,382.0L113.0,386.0L113.3,390.0L113.6,394.0L113.9,398.0L114.3,402.0L114.7,406.0L115.2,410.0L115.6,414.0L116.0,418.0L116.4,422.0L116.9,426.0L117.3,430.0L117.8,434.0L118.3,438.0L118.8,442.0L119.3,446.0L119.8,450.0L120.3,454.0L120.8,458.0L121.2,462.0L121.7,466.0L122.2,470.0L122.7,474.0L123.2,478.0L123.6,482.0L124.1,486.0L124.6,490.0L125.4,494.0L126.2,498.0L127.0,502.0L127.8,506.0L128.6,510.0L129.4,514.0L130.2,518.0L131.0,522.0L131.6,526.0L132.2,530.0L132.9,534.0L133.5,538.0L134.1,542.0L134.7,546.0L135.4,550.0L136.1,554.0L136.9,558.0L137.6,562.0L138.4,566.0L139.1,570.0L139.9,574.0L140.6,578.0L141.3,582.0L141.9,586.0L142.5,590.0L143.2,594.0L143.8,598.0L144.4,602.0L145.1,606.0L146.0,610.0L146.9,614.0L147.8,618.0L148.9,622.0L150.1,626.0L151.3,630.0L152.5,634.0L153.6,638.0L154.8,642.0L156.0,646.0L157.3,650.0L158.5,654.0L159.8,658.0L161.0,662.0L162.3,666.0L163.6,670.0L164.9,674.0L166.2,678.0L167.5,682.0L168.8,686.0L170.1,690.0L171.3,694.0L172.6,698.0" fill="none" stroke="#111" stroke-width="2.5" opacity="0.9"/></g>
<path d="M88.5,184.0C88.6,185.0 88.4,185.2 89.0,190.0C89.6,194.8 91.4,198.0 92.0,213.0C92.6,228.0 92.2,258.8 92.7,280.0C93.2,301.2 94.4,325.0 95.0,340.0C95.6,355.0 95.9,360.0 96.5,370.0C97.1,380.0 97.5,390.0 98.5,400.0C99.5,410.0 101.1,420.0 102.5,430.0C103.9,440.0 105.5,450.0 107.0,460.0C108.5,470.0 109.9,480.0 111.8,490.0C113.7,500.0 116.5,510.0 118.5,520.0C120.5,530.0 122.1,540.0 124.0,550.0C125.9,560.0 127.8,570.0 129.7,580.0C131.6,590.0 133.5,600.0 135.4,610.0C137.3,620.0 137.7,627.2 141.0,640.0C144.3,652.8 150.5,671.3 155.0,687.0C159.5,702.7 164.2,721.5 168.0,734.0C171.8,746.5 176.0,757.3 177.6,762.0" fill="none" stroke="#1a1a1a" stroke-width="1.6"/>
<path d="M98.0,189.0C97.2,188.8 94.4,187.7 93.0,188.0C91.6,188.3 90.0,189.5 89.5,191.0C89.0,192.5 89.2,195.3 90.0,197.0C90.8,198.7 92.5,200.5 94.0,201.0C95.5,201.5 98.2,200.2 99.0,200.0" fill="none" stroke="#555" stroke-width="1"/>
<path d="M111.0,182.0C111.8,180.7 112.9,188.7 114.0,192.0C115.1,195.3 116.8,198.8 117.5,202.0C118.2,205.2 118.2,208.3 118.0,211.0C117.8,213.7 117.3,216.2 116.0,218.0C114.7,219.8 111.2,225.0 110.0,222.0C108.8,219.0 108.8,206.7 109.0,200.0C109.2,193.3 110.2,183.3 111.0,182.0Z" fill="#9a9a9a" opacity="0.75"/>
<path d="M111.6,181.6C112.1,184.3 113.4,193.4 114.4,197.6C115.4,201.8 117.2,204.2 117.7,207.0C118.2,209.8 118.1,212.3 117.3,214.5C116.5,216.7 113.7,219.1 113.0,220.0" fill="none" stroke="#444" stroke-width="1"/>
<path d="M292.0,133.5L298.0,134.0L302.0,136.0L306.0,143.0L305.0,151.0L303.4,159.0L300.0,165.0L296.0,171.5L292.0,179.0L288.0,187.0L282.0,196.0L275.0,227.0L268.0,250.0L262.0,280.0L258.0,296.0L261.0,310.0L259.0,338.0L257.0,380.0L256.0,426.0L254.0,430.0L251.0,455.0L247.5,476.0L244.0,508.0L240.0,538.5L236.0,562.0L232.5,586.0L229.0,612.0L223.0,640.0L221.0,677.0L221.8,715.0L222.7,745.0L224.6,764.0L215.0,756.5L202.0,745.0L188.9,724.6L177.6,702.0L166.3,668.0L159.0,645.0L155.0,632.0L151.0,620.0L147.5,605.0L143.8,580.0L138.2,550.0L134.0,522.0L150.0,503.0L165.0,484.0L175.0,470.0L185.0,455.0L194.0,441.0L202.5,426.0L211.0,407.0L220.0,388.0L234.0,360.0L247.5,333.0L254.0,315.0L260.4,296.4L265.0,279.5L270.0,250.0L274.5,242.0L278.0,227.0L280.0,210.0L282.0,191.0L283.7,178.6L286.0,165.0L289.0,150.4L292.0,133.5Z" fill="url(#mg)" />
<g clip-path="url(#cm)" opacity="0.6" fill="none" stroke-linecap="round" stroke-linejoin="round"><path d="M186 454L183 458L181 462L178 466L176 470L173 473L171 477L168 481L165 485L163 488L160 492M197 435L195 442L192 449L189 456L186 463L183 470M159 574L156 587L152 601L150 615M226 386L223 401L220 417L217 433L214 448L210 463L205 479L201 494L197 510L193 525M235 358L233 376L229 394L226 412L224 431L221 449M219 454L215 471L210 489L206 507L202 524L197 542L192 560M174 648L172 665L171 682M214 620L210 646L208 672L207 698L207 725L208 751M229 584L226 608L221 632L218 656L217 680L217 705L218 729L219 753" stroke="#5a2024" stroke-width="1.00"/><path d="M159 493L156 497L153 501L150 506L146 510M196 439L193 447L190 455L187 463L183 471M169 506L165 514L161 522L158 529L154 537L151 545L148 553L145 560L142 568M169 536L165 546L161 556L158 566L155 576L152 586L150 596L148 606M216 397L213 408L210 419L208 431L205 442L202 453L198 464L195 476L191 487M172 569L169 582L165 596L163 609L161 623L159 637M176 612L174 628L172 644L170 660L169 676M225 459L220 479L216 500L211 520L206 540L201 561L197 581L191 602M194 604L189 625L187 647L185 669L183 691L183 713M188 674L187 697L186 719M248 331L247 351L244 371L241 391L239 412L237 432L233 451M251 329L248 354L245 380L243 405L241 431M258 305L256 334L254 364L252 393" stroke="#b57c7c" stroke-width="1.00"/><path d="M145 511L142 516L138 521L134 525M170 489L167 494L164 500L161 505L158 510L155 515L152 521L149 526L146 531L143 536L140 542L138 547M183 470L180 476L176 483L173 489L170 495L167 501L164 508L160 514M205 424L202 433L199 442L197 451L194 460L191 468L187 477L184 486L180 495L177 504L173 513L170 521M208 413L206 423L203 432L200 442L197 452M210 453L205 469L200 486L195 502L191 518M173 577L170 592L167 606L164 621L162 636L161 650M191 533L186 548L182 563L177 578L173 593M172 597L169 613L167 628L165 644L163 659M191 531L187 545L183 560L179 574L174 588L171 602L169 617L167 631L165 646M234 380L231 400L228 420L226 439L221 459M240 364L237 384L234 404L231 424L229 444L223 463L218 483M196 663L195 687L194 710L194 733M252 320L251 343L248 367L246 390L244 414L242 437M204 685L204 716L205 747M254 404L252 430L248 457L244 483L241 509L237 535L233 561M258 337L257 361L256 386L255 411L252 435L249 460L245 484L242 509L239 533M235 556L231 581L227 607L222 632L220 658L219 684L219 710L220 736L222 762" stroke="#c99494" stroke-width="1.00"/><path d="M185 454L183 458L181 462L178 466L176 470L173 474L170 478M153 513L149 518L146 523L143 529L140 534L137 539M167 499L163 505L160 511L156 518L153 524L150 530L146 537M160 514L157 521L153 527L150 533L148 539L145 545L142 551L140 557M181 491L178 500L174 509L170 518L167 527L163 536L159 544L156 553L153 562L150 571L147 580L145 589M185 510L180 523L175 537L171 551L165 564M218 397L215 411L212 425L209 438L206 452L202 465L197 479L193 492L189 505M195 721L195 728L195 734M256 338L255 363L253 388L252 413L249 438L245 462" stroke="#5a2024" stroke-width="0.70"/><path d="M169 480L166 484L163 488L160 493L157 497L154 501L151 505M151 506L148 510L144 514L141 518L138 522M146 534L142 542L138 551M196 437L193 444L191 450L188 456L185 462L183 468L180 474L177 480L174 486L170 492L167 498M146 537L142 545L139 553M201 428L198 437L195 445L192 454L189 462M175 497L171 504L168 512L164 520L160 528L156 536L153 544L150 552M211 407L208 419L205 431L201 442L198 454M212 405L209 416L206 426L203 437L200 447L198 458M213 402L210 414L207 426L204 437L201 449M195 565L189 586L183 607L180 628L178 649M176 661L175 677L174 692M242 364L239 385L236 405L234 425L231 445M215 531L210 552L205 572L201 593L195 614L191 635L189 656L187 677L186 698L186 719M224 506L220 529L215 551L210 573L206 596M215 640L213 663L213 686L213 710L213 733L214 756" stroke="#b57c7c" stroke-width="1.30"/><path d="M138 522L136 524L135 526M207 416L205 425L202 434L199 443L196 451L193 460L190 469L187 478L183 487M168 543L164 554L160 565L157 577L154 588L151 600L149 611M210 443L207 456L203 469L199 483L195 496L191 510L187 523L183 536L179 550L175 563M189 570L184 588L180 606L177 624L174 642M240 348L238 368L235 387L232 407L229 427L226 446M178 669L177 684L176 698M230 448L225 469L221 490L216 511L212 532L206 553L202 575L197 596M229 470L225 490L221 511L217 531L212 552L207 572M240 440L236 463L231 486L228 509L223 533L219 556M226 528L222 549L217 571L213 592L209 613L204 634L202 656L201 677L200 699L199 721L200 742" stroke="#6c2e30" stroke-width="0.70"/><path d="M185 456L182 461L179 466L177 470L174 475L171 480L168 484L165 489M182 474L178 481L175 488L172 494L169 501L165 508L162 514L158 521L155 528L152 534L149 541L146 548M175 495L171 503L168 511L164 518L161 526L157 533L153 541L150 548L148 556L145 563M182 510L177 522L173 534L168 547L163 559L160 571M228 372L225 391L221 410L218 429M229 369L227 385L224 401L221 417L218 434L215 450L211 466L206 481L202 497M195 549L191 566L186 583L181 599L178 616L176 633L174 650L172 667L171 683M211 504L206 524L201 543L196 563L192 582L186 602M223 458L218 476L214 494L210 512L206 530L201 548L197 567L192 585L187 603L183 621L181 639L179 657M240 363L237 382L235 401L232 419L230 438L225 457" stroke="#6c2e30" stroke-width="1.00"/><path d="M163 492L160 496L157 500L154 504L151 508L148 512L145 516L143 520M173 480L171 485L168 490L165 495L162 499L159 504L156 509L153 514L150 519M195 439L193 445L190 451L187 456L185 462L182 468L179 474L176 480L173 486L170 491L167 497M202 427L199 435L196 443L194 450L191 458L188 466L184 474L181 482L178 489M179 489L176 497L172 505L169 514L165 522L161 530L158 538L154 546L151 554M149 560L146 569L143 578M203 428L200 437L197 445L195 454L192 463L188 471M187 476L183 485L179 494L176 503L172 512L168 521L164 530L160 539L156 548L153 557L150 566L147 575M195 464L191 475L187 486L184 497L180 507L176 518L171 529M158 610L156 621L155 632M205 470L201 484L197 499L193 513L189 527L185 541L180 555L176 569M166 627L164 641L162 655M200 507L195 523L190 540L186 556L181 572L176 589L173 605M184 611L180 632L178 653L176 674L175 695M240 438L235 459L231 480L227 501L223 522L219 543M251 375L250 399L248 423L244 446L240 470L236 494L233 518L229 541L224 565L220 589L216 612M256 309L255 331L253 354L251 377L250 400L249 422L245 444M220 620L215 646L213 674L213 701L214 728L215 755" stroke="#c99494" stroke-width="0.70"/><path d="M141 523L138 527L135 531M150 519L146 525L143 530L140 536L137 541M173 540L168 553L163 566L160 579L157 592L154 605L151 618M228 392L225 408L222 424L220 440L216 456M203 510L199 528L193 545L189 563L184 581L179 599M231 438L226 457L222 477L218 497L213 517L209 536L204 556L199 575L194 595L189 614L186 634L184 654M252 356L249 380L248 403L246 426L242 449L238 473L234 496L230 519L226 542" stroke="#d4a4a2" stroke-width="1.00"/><path d="M188 452L185 458L182 463L179 468L177 473L174 478L171 484L168 489L164 494L161 499L158 504L155 509M165 500L161 507L158 513L154 520L151 526L147 532M186 469L182 477L179 484L176 491L173 498L169 506M218 470L214 488L210 505L206 523L201 540L197 557M215 497L211 516L207 534L202 552L198 571L194 589L188 607L185 626L183 644L181 663M180 677L179 690L178 704M202 611L197 635L194 659L193 682L192 706L192 730M210 649L209 675L208 700L208 726L209 752" stroke="#6c2e30" stroke-width="1.30"/><path d="M190 448L188 453L185 458L183 463L180 468L177 473L174 478M172 517L169 526L165 536L160 545L157 555L154 565L151 575L148 584L146 594M214 400L212 411L209 423L206 434L203 446L200 457L196 469L192 480L188 491L184 503M163 573L160 585L157 597L155 609L153 620M214 414L211 427L208 440L205 452L201 465L197 477L193 490L189 503L185 515L181 528L177 540M186 532L182 546L178 560L173 574L169 588L166 602L164 617L162 631L160 645" stroke="#c99494" stroke-width="1.30"/><path d="M192 446L189 452L186 457L184 463L181 468L178 474L175 479L172 485M218 400L215 414L212 427L210 440L207 453L203 466L199 480L195 493L191 506L187 519L183 532L179 545M223 383L220 399L216 415L213 431M224 380L221 396L218 413L214 429L211 446M195 513L191 527L187 541L182 556L178 570L173 585L170 599L168 614M212 470L207 488L203 506L198 524L193 542L189 560L184 577M182 583L177 601L174 619L172 637L169 655L168 673M231 386L228 402L226 419L224 435L220 451L216 468L212 484L208 500L204 517L200 533L195 549M247 334L245 356L242 377L239 399L237 421M245 356L242 376L240 397L237 417L235 437L230 457L226 477L222 497L218 518L213 538L209 558M250 326L248 348L245 370L243 392L241 414L239 436L234 458L229 479L225 501M247 360L245 381L243 402L241 422L238 443L234 463L230 484L226 504L222 525M219 544L214 566L210 588L205 609L200 631L197 653L196 675L195 697L194 719M244 450L240 474L236 498L233 522L229 546L224 570L220 594L215 618L211 642" stroke="#d4a4a2" stroke-width="1.30"/><path d="M144 553L142 557L140 561M150 553L146 563L143 573M194 461L190 471L186 482L182 492L178 502L174 513M174 548L169 561L165 575L162 589L159 602L156 616L154 630M225 378L222 393L219 408L216 423L214 438L211 452L206 467M228 386L225 402L222 417L219 433L217 449L212 465L208 481L204 497L200 512L196 528M233 361L231 378L228 395L225 412L222 429L220 446L215 463L211 480L206 496M188 615L184 637L182 660L180 683L179 706M204 576L199 600L193 623L190 647L188 670M252 404L251 427L247 450L243 473L240 496L236 520L233 543L229 566L225 589L221 612L216 635" stroke="#b57c7c" stroke-width="0.70"/><path d="M202 428L199 437L196 445L193 453L190 461L187 469L184 477L180 485L177 493M167 529L163 538L159 547L156 556L153 564L150 573L148 582L145 591M200 453L196 465L192 476L188 487L184 499L180 510L176 522L172 533M189 494L185 506L181 517L177 528L173 540M217 394L214 406L211 419L208 431L205 443L203 455L199 467L195 479L191 491L187 503M215 442L211 458L207 474L202 490L198 507L194 523M238 364L235 382L232 399L229 417L227 435L223 453L219 470L214 488M244 341L241 363L238 384L235 406L232 428M221 532L216 556L211 580L206 604L200 627L197 651M216 567L212 589L208 610L203 631L200 653L199 674L198 696L197 717L198 739M222 562L218 588L213 613L207 638L205 664M259 300L259 324L257 348L256 372L255 396" stroke="#d4a4a2" stroke-width="0.70"/><path d="M204 422L202 430L199 438L196 446L193 454L191 462L187 470L184 478L181 486M211 408L208 418L205 428L202 438L199 448L197 458L193 468L189 478L186 488L182 498L179 507M176 513L172 523L169 533L165 543L161 553L157 563L154 572L152 582L149 592L147 602M195 464L191 474L187 484L184 494L180 504L176 514L172 525L169 535L165 545L160 555M160 557L156 568L153 580L150 592L147 604M185 517L181 530L177 542L173 554L168 567L165 579L162 592L160 604M178 548L173 562L168 577L164 591L162 606L159 621L157 635M224 392L221 406L218 421L215 435L213 449L209 463L205 477L201 491L197 505M172 610L169 628L167 646L165 664M194 533L189 550L185 567L179 583L175 600L172 617L170 634L168 652M183 661L182 685L181 709M235 433L230 456L225 480L220 504L215 528M204 588L198 610L194 633L191 655L190 678L188 701L188 723M253 317L252 341L249 365L247 389L245 413L243 437L238 460L233 484L229 508M256 310L255 336L252 362M244 469L240 494L237 519L233 544L228 569L225 594L220 619" stroke="#5a2024" stroke-width="1.30"/></g>
<g clip-path="url(#cm)" opacity="0.6" fill="none" stroke-linecap="round"><path d="M260 215l-11 -57M250 157l-8 -39M259 160l-9 -50M279 212l-6 -25M270 162l-10 -44M284 211l-7 -48M287 176l-5 -31M296 163l-7 -49M313 206l-9 -46M320 165l-8 -50M316 126l-6 -34M328 127l-5 -28" stroke="#c49498" stroke-width="0.70"/><path d="M262 215l-12 -57M275 176l-9 -47M286 210l-7 -45M303 207l-6 -27M308 206l-7 -37M334 174l-4 -20M343 200l-10 -57" stroke="#b58388" stroke-width="0.70"/><path d="M251 152l-6 -49M264 214l-13 -56M253 139l-9 -58M269 213l-10 -53M271 213l-6 -28M259 141l-9 -53M273 213l-4 -25M280 160l-9 -57M284 179l-8 -47M297 208l-12 -55M298 162l-4 -29M301 167l-5 -32M295 130l-7 -38M299 134l-9 -58M316 205l-11 -57M313 152l-3 -21M324 153l-10 -48M329 158l-12 -52" stroke="#5e2a32" stroke-width="1.30"/><path d="M254 157l-7 -32M258 163l-4 -23M268 184l-4 -30M272 132l-6 -44M290 210l-4 -26M290 139l-9 -49M305 175l-9 -45M305 137l-4 -28M320 204l-7 -35M332 202l-10 -46M337 201l-7 -38M330 151l-8 -59M337 173l-7 -46" stroke="#b58388" stroke-width="1.30"/><path d="M267 214l-9 -50M275 158l-6 -31M299 208l-4 -20M312 206l-9 -44M305 145l-7 -56M310 161l-5 -22M313 168l-6 -26M324 204l-7 -51M327 203l-7 -34M331 202l-10 -46M339 201l-4 -21" stroke="#c49498" stroke-width="1.30"/><path d="M265 181l-8 -38M262 149l-12 -54M281 211l-4 -31M288 210l-8 -46M293 209l-4 -31M304 207l-9 -42M309 129l-6 -34M329 203l-9 -50M341 201l-3 -22" stroke="#5e2a32" stroke-width="0.70"/><path d="M275 212l-8 -41M278 212l-7 -45M269 164l-9 -53M277 160l-5 -26M277 131l-7 -45M298 180l-6 -38M295 124l-5 -33M317 205l-8 -42M323 156l-7 -29" stroke="#5e2a32" stroke-width="1.00"/><path d="M267 167l-10 -44M274 185l-4 -22M281 140l-7 -41M294 209l-6 -29M290 178l-7 -54M288 144l-11 -51M307 207l-8 -43M305 154l-6 -43M322 204l-7 -48M315 149l-5 -26M334 202l-5 -43M333 141l-8 -52" stroke="#c49498" stroke-width="1.00"/><path d="M288 150l-6 -45M296 187l-8 -41M293 131l-11 -54M310 206l-5 -29M304 156l-4 -22M309 140l-5 -20M319 148l-5 -36M327 159l-7 -31M321 126l-4 -27" stroke="#b58388" stroke-width="1.00"/></g>
<path d="M219.0,558.0C220.2,555.0 222.8,553.0 223.5,560.0C224.2,567.0 223.7,586.7 223.5,600.0C223.3,613.3 222.8,626.7 222.5,640.0C222.2,653.3 221.6,666.7 221.5,680.0C221.4,693.3 221.8,708.3 222.0,720.0C222.2,731.7 222.6,742.8 223.0,750.0C223.4,757.2 225.3,761.5 224.5,763.0C223.7,764.5 219.7,762.8 218.0,759.0C216.3,755.2 215.2,749.8 214.5,740.0C213.8,730.2 213.7,715.0 213.5,700.0C213.3,685.0 213.3,665.8 213.5,650.0C213.7,634.2 214.0,617.0 214.5,605.0C215.0,593.0 215.8,585.8 216.5,578.0C217.2,570.2 217.8,561.0 219.0,558.0Z" fill="#c89c9c" opacity="0.85"/>
<path d="M216.5,578.0C216.2,582.5 215.0,593.0 214.5,605.0C214.0,617.0 213.7,634.2 213.5,650.0C213.3,665.8 213.3,685.0 213.5,700.0C213.7,715.0 213.8,730.2 214.5,740.0C215.2,749.8 217.4,755.8 218.0,759.0" fill="none" stroke="#6a3034" stroke-width="0.8" opacity="0.7"/>
<path d="M271.7,129.3L273.8,132.0L283.0,132.5L292.0,133.5L289.0,150.4L286.0,165.0L283.7,178.6L282.0,191.0L280.0,210.0L278.0,227.0L274.5,242.0L270.0,250.0L265.0,279.5L260.4,296.4L254.0,315.0L247.5,333.0L234.0,360.0L220.0,388.0L211.0,407.0L202.5,426.0L194.0,441.0L185.0,455.0L175.0,470.0L165.0,484.0L150.0,503.0L134.0,522.0L127.8,490.0L124.5,460.0L121.0,430.0L118.0,400.0L114.0,362.0L127.0,352.0L140.0,340.0L152.0,328.0L165.0,314.0L178.0,297.0L190.0,280.0L203.0,262.0L215.0,245.5L225.6,225.0L232.5,213.0L242.0,200.0L249.0,190.0L255.7,180.0L259.7,168.0L264.0,160.0L268.0,150.0L270.0,140.0L271.7,129.3Z" fill="url(#yg)" />
<g clip-path="url(#cy)" opacity="0.65" fill="none" stroke-linecap="round" stroke-linejoin="round"><path d="M272 129L269 144L265 157M274 140L271 155L266 169L261 184L255 197L247 210L240 223L233 237L227 250L220 264L212 277M238 231L231 245L225 260L217 273L208 287L199 300L191 314M232 258L224 275L214 290L204 306M221 288L211 303L202 319L193 334L183 350L173 365M280 132L277 148L273 165L268 181L264 197L258 213L251 228L245 243M240 254L234 270L226 285L217 300L208 315L199 330L190 345L181 360L171 374L161 388M276 156L272 171L268 186L264 201L258 216L251 230L245 244L240 259M203 330L194 345L186 360L177 374L167 387L156 400L145 413L134 425L122 437M258 225L252 241L246 257L240 274L233 290L224 306L215 321M256 234L250 252L244 269L237 286L229 303L220 320L211 336L201 352M285 136L281 154L277 171L274 188L271 205L266 222L259 238L254 254L249 271L242 287L236 304" stroke="#6c6426" stroke-width="1.00"/><path d="M261 166L256 179L249 191L241 202L232 214L225 226L219 239L211 251L203 262L195 274L187 285M273 130L271 143L267 157L261 169M200 277L191 290L182 303L173 315L164 327M237 216L230 231L222 246L214 260M269 159L263 172L260 185L253 198L246 210L239 221L233 234L227 247L220 259L213 271M274 145L270 161L265 176L261 191L254 205L246 219L239 233L232 248M198 306L190 320L181 333L172 346L162 358L152 370L141 382L130 393L118 403M251 232L246 246L240 261L234 276L227 290L219 304L210 318M271 182L267 199L262 216L254 231L248 247L242 264L236 280L228 296L219 311L210 326L202 341M278 160L273 181L269 202L262 222M223 324L215 339L206 355L198 370L189 386L180 401L170 415L159 429M268 217L260 237L254 258L247 279M253 268L247 287L239 306L230 324L221 341L211 359M278 177L275 198L271 219L263 239L258 259L252 279M167 457L156 473L143 488L130 502M290 133L286 153L282 173L279 192L276 212L272 232L265 250L261 270L256 289L249 308M274 232L267 250L264 270L258 290L252 309L245 328L236 346L227 364L217 382" stroke="#d2c880" stroke-width="1.30"/><path d="M185 287L177 299L168 311L158 322L147 333L137 343L126 353L114 363M206 272L197 284L189 296L181 308L173 320L164 331L155 342L145 352L135 362L124 372M251 206L243 218L237 231L231 244L224 257L217 270L209 282L201 295M274 146L270 162L264 177L259 193L252 208L243 222L236 236M273 156L268 171L264 186L258 201L250 215L243 229L237 244L230 258M274 154L269 168L265 182L261 197L254 210L247 223L241 236L235 250M193 356L185 370L176 384L166 397L156 409L145 422L134 434L123 445M284 133L281 150L277 167L273 184L269 202L264 218L257 234L252 251M281 151L277 169L273 186L269 204L264 221L257 237L252 254L246 271L239 288L232 305M262 236L257 254L252 272L245 290L238 308L229 324L220 341M286 152L282 172L278 192L275 212L271 232L264 250L259 270L254 289L247 309L238 327M289 148L285 170L281 192L279 214" stroke="#ece4a2" stroke-width="0.70"/><path d="M272 133L269 146L265 159L259 172L254 184L246 196L238 207M192 279L185 290L177 301L169 312L160 323L151 332M224 271L216 285L208 298L199 312L191 325L182 338L174 352L164 364L153 376M260 202L252 217L245 232L239 247L232 263L225 278M219 292L211 305L203 318L195 332L187 345L179 359L169 371L159 383M249 243L243 259L236 276L229 292L220 307L211 323L202 338L193 354M219 342L210 359L201 376L192 393L182 410L171 426M263 237L257 258L251 279L243 300M183 431L171 449L158 466L144 483L130 499M153 497L143 508L134 519" stroke="#d2c880" stroke-width="1.00"/><path d="M233 215L225 229L218 242L210 255L201 268M219 243L212 255L204 266L197 277L189 288L181 299L173 310L165 320L156 330M251 194L242 207L234 220L227 233L220 247L212 260L203 273M196 302L188 315L180 327L171 340L161 352L151 363M189 316L180 330L171 343L160 356L149 368L138 380L126 392M259 219L251 235L245 252L238 268L231 285L222 301M183 387L171 404L158 421L145 437L131 452M242 303L234 319L225 335L217 351L208 368L200 384M232 340L221 360L211 379L201 399L191 419M290 133L286 154L282 174L279 195L277 216L272 236L265 256M182 456L168 476L154 495L138 513" stroke="#847c32" stroke-width="1.30"/><path d="M142 342L128 354L114 365M172 324L162 336L151 348L140 360L128 371L116 381M275 130L272 144L269 158L264 171L259 185L253 197L245 209L238 221L232 234M276 130L273 146L269 161L264 175L259 189L252 203M159 359L150 370L140 381L129 391L118 401M272 159L266 176L261 194L253 210M175 347L165 360L154 373L143 385L131 397L119 408M258 209L250 224L243 241L236 257L229 274M157 386L145 399L133 412L120 424M142 434L133 444L124 453M163 418L151 433L138 448L125 462M286 133L281 155L277 178L272 200M191 415L180 432L168 449L156 465L142 480L129 496M221 364L212 381L204 399L195 416L185 432L174 448M213 390L203 411L192 432L179 452" stroke="#e2da94" stroke-width="1.00"/><path d="M273 130L270 144L266 158L260 171L254 185L246 197L238 209L230 222L224 235M230 238L223 252L216 266L207 278L198 291L190 304M227 262L219 278L209 293L200 308L191 323L181 338M158 377L146 390L133 404L120 416M165 375L155 387L144 399L133 411L122 422M274 160L269 175L265 190L260 204L254 218L247 232L241 247L235 261L229 275L221 289M283 132L279 151L275 170L270 188L266 206L259 223M176 410L164 426L152 441L139 456L126 470M225 343L216 360L207 378L198 395L188 413L177 429L166 445L154 460L141 476L128 490M254 285L247 304L238 324L229 342L219 361L209 379L200 398M283 168L279 188L277 208L273 228L265 247L261 266L256 286L249 305L242 324L232 342L223 360M262 272L256 292L249 311L242 330L232 349L223 367L213 385L204 404M222 380L211 403L201 425L188 446" stroke="#e2da94" stroke-width="1.30"/><path d="M153 334L142 344L132 355L120 364M245 208L237 220L231 233L225 246L218 259L210 271L202 282L194 294L186 306L178 318M183 314L175 325L167 337L157 348L148 358L138 368L128 378L117 387M149 382L134 397L119 411M275 151L271 166L266 182L261 197L255 211L247 225L241 239M282 132L278 154L272 176M199 357L190 373L181 388L170 402L160 416L148 430L136 443L124 456M271 203L265 221L258 239L252 257L246 275L239 293L230 311M211 377L201 397L191 416L180 434L167 452M285 169L282 189L280 210L277 230L270 249L266 269L261 290L255 309L248 329L239 347" stroke="#847c32" stroke-width="1.00"/><path d="M259 174L253 188L245 201L236 214L228 228L221 242M217 250L208 263L199 275L191 287L182 300L173 312L164 324L154 336M208 282L200 295L191 308L183 321L174 334L164 346L154 358L144 369M249 287L242 305L234 322L225 339L216 356L207 373L198 391L189 407L178 424L167 439L155 454M161 460L145 479L129 497" stroke="#6c6426" stroke-width="1.30"/><path d="M154 336L141 348L129 360L115 371M275 139L271 156L266 171L261 187L254 202L246 216L238 231M246 237L241 252L234 267L228 281L220 295L211 309M239 260L233 275L226 289L218 303L209 316L201 330M199 334L189 352L177 369L165 386M221 302L212 318L203 333L194 348L186 363M236 285L229 299L221 314L213 328L204 342L196 357L188 371L180 385L170 399L160 412L149 424M272 181L269 200L263 218L255 235L249 252L243 270L236 288M185 396L174 412L163 427L151 441L139 456M287 133L284 151L280 168M151 459L139 473L127 486M281 166L278 185L275 204L271 223L263 241L259 260L254 279L247 297L240 315L231 333M250 298L243 316L234 334L225 351L216 368M287 154L283 177L279 200L276 223M232 362L222 382L212 401L203 421L193 440L181 459L168 477L155 494" stroke="#ece4a2" stroke-width="1.30"/><path d="M271 143L266 160L260 176L252 191M155 337L146 347L136 356L126 366L115 374M274 130L272 145L267 159L262 173L257 187L249 199M145 370L132 384L118 396M232 249L226 262L218 275L210 288L202 300M237 249L230 265L222 279L214 293L205 307L196 322L188 336L179 350L169 363L158 376M217 291L207 307L197 323L187 339L177 355M281 132L278 150L274 168L269 186L264 204M192 357L183 371L173 385L163 399L152 412M143 423L133 433L123 443M283 132L280 149L276 165L272 182L269 198L264 214L257 229L251 244L246 260L240 276M252 263L246 280L239 297L231 313L223 329L214 344L205 360L197 376L188 392L178 407M245 285L238 302L230 318L221 334L212 350L203 367L195 383L186 399M196 421L184 440L172 458L159 475L145 492L131 508" stroke="#e2da94" stroke-width="0.70"/><path d="M269 153L264 166L259 179L253 192L246 204L238 215M243 210L235 222L229 235L223 248L216 260L207 272L199 284L191 296L183 307L175 319M279 140L275 157L270 175L266 192L260 208L252 224M185 365L175 379L165 392L155 405L143 418L132 430M131 431L126 436L122 440M278 154L273 171L269 189L265 206L257 223L250 239M248 261L242 277L235 294L227 310L218 325L209 341L201 356L192 372M226 315L217 330L209 345L200 360L192 375L183 390L174 404M166 432L154 448L140 463L127 478M285 140L281 160L277 179L274 198L270 217L263 235L257 254M287 133L283 153L279 173L275 193L272 214L265 233M261 251L257 268L252 286L245 303L238 320L229 336L221 353L212 369L204 385L196 402M188 414L177 431L166 446L154 462L141 477L128 491M289 133L285 152L281 171L278 190L275 209L271 228L264 245L260 264L255 282M170 465L158 481L145 497L132 512" stroke="#847c32" stroke-width="0.70"/><path d="M268 159L262 174L256 189L248 203M143 370L131 382L117 394M198 315L190 328L182 342L173 355L163 367L153 379L142 391L131 402L119 413M281 132L278 151L273 169L268 187L263 205L256 222M206 336L197 352L189 368L179 384L168 398L157 412L145 426L133 439M283 133L279 153L274 174M233 293L225 308L217 322L208 337L200 352L192 367L183 382L173 396L163 410L152 423M236 304L226 322L216 339L207 356L198 374L188 391M286 133L282 154L278 174L274 194L270 215L263 234M200 384L190 402L179 419L167 436L154 452L141 468L127 483M289 133L285 151L281 170L278 188L276 206L272 224L265 241L261 259L256 277M277 229L270 247L266 266L262 285L257 304L250 322L243 340L234 357L225 374" stroke="#d2c880" stroke-width="0.70"/><path d="M173 325L163 338L152 350L141 362L129 373L116 383M230 250L224 263L216 276L208 289L200 302L191 315L183 327L175 340L166 352M251 213L243 228L236 244L229 260M278 136L275 151L271 166L267 180L263 195M168 367L157 380L145 394L133 407L120 419M276 148L271 167L266 185L260 204M203 323L194 337L186 352L177 366L166 379L156 392L145 405L133 417L121 429M160 389L148 403L135 417L121 430M285 133L282 150L278 167L275 184L272 201L268 218L261 233L256 250M176 412L165 428L152 444L139 459L126 473M245 320L236 338L227 356L217 374L208 392L200 411L190 428L178 445L167 462M163 466L147 486L131 505M286 160L282 181L280 202L277 222L272 243L266 263L261 283L255 303L248 323M239 342L230 359L221 377L213 395L204 413L195 430L184 447L173 464L162 480L149 495L136 510" stroke="#6c6426" stroke-width="0.70"/><path d="M208 279L200 291L192 303L184 315L176 326L167 338L158 349L148 359L138 370L128 379L117 389M159 393L147 407L135 421L121 433M140 434L132 443L123 451M285 133L281 153L276 174L272 195M150 439L138 453L125 467M208 364L200 380L192 395L183 411L172 425L162 439L150 453L139 467L127 480M281 168L277 189L274 209L269 229L262 248" stroke="#ece4a2" stroke-width="1.00"/></g>
<path d="M259.7,128.6L265.0,128.0L271.7,129.3L270.0,140.0L268.0,150.0L264.0,160.0L259.7,168.0L255.7,180.0L249.0,190.0L242.0,200.0L232.5,213.0L225.6,225.0L215.0,245.5L203.0,262.0L190.0,280.0L178.0,297.0L165.0,314.0L152.0,328.0L140.0,340.0L127.0,352.0L114.0,362.0L111.0,300.0L108.0,235.0L111.4,235.0L134.0,236.0L156.8,232.7L175.0,227.0L195.5,215.7L213.6,203.0L227.0,189.5L230.0,176.0L234.0,165.0L240.0,152.0L248.0,140.0L254.0,132.0Z" fill="#34906f" />
<g clip-path="url(#cg)" opacity="0.65" fill="none" stroke-linecap="round" stroke-linejoin="round"><path d="M260 129L253 135L246 143L241 151L237 160L233 169L230 178M260 129L252 137L244 147L238 157M263 129L257 138L251 147M211 220L203 227L195 235L187 242L178 249L169 255L160 261L150 266L140 270L131 274M257 141L251 152L245 163L240 173L234 184L230 195L223 205L216 215M217 219L209 228L201 237L192 246L183 254L174 262M173 265L164 273L154 280L143 286L132 292L121 297L110 302M240 185L234 195L229 206L222 216L215 226M264 139L259 149L254 159L249 170L244 180L238 191L232 201M233 202L226 214L218 227L210 238L201 249M190 264L181 275L172 284L163 294L153 302L142 311L132 318L121 325M221 226L214 236L206 246L199 256L191 265L183 274L175 284L167 293L158 301L149 309M269 129L266 142L262 154L256 165L251 177L244 188L237 199L230 210L224 221L217 232M270 129L267 143L262 156L256 169L250 182L242 194L234 206M223 225L217 236L209 247L201 258L193 268L185 278L177 289L168 299L160 308L150 317M157 319L146 329L135 340L124 349M223 229L217 241L209 252L201 262L194 273L186 284" stroke="#1f6e50" stroke-width="1.30"/><path d="M229 180L227 190L219 198L211 206M199 216L191 221L183 226L175 231L166 234L157 237L147 239L138 241L128 241L119 241M261 129L255 136L249 145L243 153L239 163L235 172L231 182L228 191L222 200M217 210L210 218L202 225L194 232L186 238L178 245L169 250L160 255L151 259M241 168L236 178L231 187L228 198L221 206L214 214L206 222L198 229L190 236M183 241L175 248L166 253L157 258L148 261L138 265L129 268L119 270L109 273M257 139L251 149L245 159L240 170L235 181L230 192L225 202M264 129L258 139L252 150L246 161L241 172M210 224L201 233L192 242L182 250L173 258M184 252L176 259L167 266L158 272L149 277L139 282L130 287L120 291L110 295M241 180L235 191L229 202L222 212L216 222L208 231L199 240L190 249L182 257M247 170L241 181L235 192L229 202L222 213L216 223L207 232L199 241L190 250M216 223L207 233L199 242L190 251L182 259L173 268L163 275L154 282L143 289M263 138L257 150L251 161L246 173L239 185M217 226L209 237L200 247L190 257M144 304L133 311L123 318L112 324M268 129L265 140L261 151L255 162L251 173L244 184L238 194M264 143L259 156L253 168L248 180L240 192L233 203M152 308L143 316L133 323L123 330L112 337M231 210L225 221L219 232L212 242L204 252L196 262L188 272L181 282L173 291L164 301L155 309M146 317L136 326L125 334L114 342M169 300L159 311L148 321L137 331L125 340L113 348M146 330L136 340L125 350L114 358" stroke="#145e44" stroke-width="1.00"/><path d="M203 211L195 216L187 221L179 226L170 229L161 232L152 234L143 236L133 237M133 239L120 239L108 240M221 200L214 207L206 214L198 220L189 226L181 232L172 237L162 241L152 244M230 189L225 198L218 207L211 214L203 221M116 265L112 266L109 267M264 129L258 138L253 147L247 157L243 167L238 177L233 187L229 197L223 206L216 214M130 274L120 277L109 280M170 260L161 266L152 271L143 276L134 280L124 284L114 287M248 161L244 171L239 181L233 191L229 201L223 210L216 219L209 227L201 235L193 243L185 250M125 290L118 293L110 297M168 267L157 275L146 282L135 288L123 293M239 186L233 196L227 207L220 218L213 228L204 237L196 246L187 255L179 263L170 271M202 246L194 255L186 264L178 273L170 281M240 193L233 204L226 216L219 227L212 239L203 249L195 260L186 270M270 129L267 143L262 157L256 170L249 183L242 195M140 326L127 337L113 347" stroke="#78c8a6" stroke-width="1.30"/><path d="M130 237L119 237L108 237M238 158L234 168L230 178L228 188L221 196L214 204L205 210L197 216M229 184L225 194L218 202L210 209L202 215L193 221M253 139L247 147L242 155L238 164L234 173L230 182L228 192L221 199M129 251L119 252L109 254M253 140L247 149L241 159L236 169L232 180M263 129L258 137L252 146L247 155L242 164L238 173L233 183L229 192L224 201L218 209M190 246L182 254L174 262L165 268L156 274L147 280L137 285L127 289M246 169L240 180L234 191L229 202L221 213M266 129L261 140L256 150L250 161L245 172M267 129L262 141L257 152L251 164L245 176M215 226L207 235L199 244L190 253L182 262L173 270L164 278L155 285M267 129L263 140L258 151L252 161L248 173L242 183L236 193M165 280L156 288L146 295L137 301L127 307L116 313M268 129L264 144L257 158L251 173M246 182L240 192L233 202L227 212L221 223L215 233L207 242L199 252M270 129L267 141L263 152L257 164L253 175L246 186L240 196L233 206L227 217M235 204L228 216L221 228L214 240L206 251L198 261L189 272L181 283L172 294M270 129L267 142L263 154L258 166L253 178L246 189L239 199L232 210L225 221M269 138L266 151L260 163L255 175L249 187L241 198L234 209L227 220L221 231L214 243L206 254M200 262L191 273L183 285L174 296L165 306L156 316L146 326L135 335L125 344L113 352M196 271L188 282L180 293L172 304L163 315L154 324L145 334L135 343L125 352L114 360" stroke="#1f6e50" stroke-width="1.00"/><path d="M190 221L180 226L170 231L160 234L149 237L138 238M251 139L245 147L240 156L235 166L232 175L229 185L224 194L217 202L210 209L201 215L193 221M185 226L177 231L167 235L158 239L148 241L138 243L128 244L118 245L108 246M201 223L193 230L184 236L175 242L166 247L157 251L147 255L137 258L127 260L117 262M262 130L256 139L250 148L244 158L239 168L235 178L230 188L226 198L219 207M149 259L140 263L130 266L119 269L109 271M263 129L257 138L251 148L245 159M260 135L254 145L248 154L244 164L238 174L234 184L229 194L224 204L217 212L210 220L202 228M159 260L149 264L139 268L129 272L119 274L109 278M128 276L119 279L109 282M217 214L211 222L203 229L195 236L187 243L179 250L171 256L163 262L154 267L145 271L136 276M229 199L223 208L216 217L208 225L200 233L192 241M263 133L258 143L253 153L247 163L242 173L237 183L232 194L227 204L220 213L213 222L205 230M158 271L149 276L139 281L130 285L120 289L110 293M265 129L261 139L256 148L250 158M258 153L253 163L248 174L242 185L236 195L230 205L224 215L218 225M217 232L209 243L201 254L193 264L184 274L176 284L167 294L157 303M139 322L126 331L113 340M237 203L230 214L223 226L217 237L209 248L201 259L193 269L185 280L177 290M270 133L268 145L264 157L258 169L253 181L246 191L239 202L232 212L225 223L219 235L213 246" stroke="#145e44" stroke-width="1.30"/><path d="M260 129L254 136L248 143L242 151L238 160L234 168L231 177M218 204L211 211L202 218L194 224L185 230L177 235L168 240L158 244L148 247L138 249M246 150L241 159L237 168L233 177L230 187L226 196L219 204L212 211L204 217L197 223L188 229M254 141L248 149L243 158L239 167L235 177L231 186M182 258L174 266L165 273L157 279L148 285L138 290L129 295L119 300M226 211L219 221L213 231L205 240L197 248L189 257L181 265L173 273M230 206L222 219L214 231L205 242M198 253L190 262L182 272L174 281L165 289L156 297L147 305L137 312L127 319M210 249L202 260L194 271L186 282L177 293L169 304L160 314L150 323M271 129L269 143L265 157L258 170L253 183L245 195L237 206L229 218" stroke="#5fb290" stroke-width="1.30"/><path d="M229 183L225 193L217 202L207 210M231 183L228 193L221 201L214 209L206 216L198 222L190 228L181 234L173 239L163 244L154 247M141 266L131 269L120 272L109 275M259 139L254 149L248 159L243 170L238 180L232 191M153 287L143 293L132 299L122 305L111 310M201 243L193 252L184 261L176 270L167 278L157 286L147 293M123 322L117 325L112 328M269 129L266 141L261 153L255 165L250 177L243 188M269 129L266 141L262 152L256 163L252 175L245 186L238 196L232 207L225 217M166 300L156 310L146 320L135 329L124 337L113 345M266 149L259 164L253 179L244 192M145 328L135 337L125 346L114 354M271 130L268 144L264 157L258 170L253 182M272 129L269 144L264 158L258 171L252 185L244 197L235 209" stroke="#5fb290" stroke-width="1.00"/><path d="M192 221L183 227L174 232L164 236L154 239L144 241L134 243M262 129L255 137L249 146M165 245L156 249L147 252L137 255L128 257L118 258L109 260M197 232L187 240L177 249L166 255M161 279L151 285L141 292L131 297L121 302L110 308M162 285L152 292L142 299L132 306L122 312L111 317M229 211L222 222L215 233L208 243L200 252L192 262M147 310L136 319L124 327L112 335" stroke="#1f6e50" stroke-width="0.70"/><path d="M130 243L119 243L108 245M261 129L254 136L247 144L242 153L237 163L233 172L230 182M185 231L176 237L167 242L158 246L148 249L138 252L129 253L119 254L109 256M223 204L216 213L209 220L201 227L193 234L185 241L177 247L168 253L159 258L150 262M200 235L192 243L184 250L176 258L168 264M258 145L252 155L247 166L242 176L236 186L231 197L225 207L219 216L212 225L203 234L195 242M268 129L264 141L259 154L253 166L247 178L240 189L234 200M224 222L217 234L209 244L201 255L193 265L185 275L176 286L168 295L159 304L149 313M209 252L201 263L192 274L184 285L176 297L167 307L158 318" stroke="#5fb290" stroke-width="0.70"/><path d="M252 139L245 149L239 160L234 172M147 246L138 248L128 249L118 250L108 252M146 250L137 252L127 254L118 255L109 257M240 165L235 175L231 185L228 195L221 203L214 211L206 218L198 225L190 231M216 211L208 218L199 226L191 232L182 239L173 245L164 250L155 254L145 258L135 261L125 263M189 244L180 251L171 259L162 265L152 271L141 276L131 281L120 284L110 288M266 129L261 140L256 152L250 163M260 145L254 155L249 166L243 177L237 188L231 198L226 209L219 219M204 242L196 251L187 260L179 269L171 277M268 129L264 139L260 149M187 261L178 271L169 280L159 288L148 296L138 304L127 310M161 289L152 296L142 303L132 310L122 316L111 322M183 274L174 284L165 293L156 302L146 310L136 318L125 325L114 332M248 189L241 200L233 211L226 222L220 234L214 246" stroke="#78c8a6" stroke-width="1.00"/><path d="M233 173L230 183L227 192L220 200L213 207L205 213L197 219L189 225L180 230L171 235L162 239M252 141L246 152L241 163L235 174M234 177L230 187L226 197L219 205L211 213L203 220L195 226L186 233L177 239L168 244M262 129L256 137L250 145L245 154L241 164M248 151L243 161L238 171L234 181L230 191L224 201L217 209L210 217L202 224L193 231L185 238M178 243L169 248L160 254L150 258L140 261L130 264L119 266L109 269M135 276L123 280L110 285M260 138L255 148L249 157L245 168L239 177L234 187L230 197L224 206L218 215L211 224M138 292L125 299L110 305M234 196L228 208L221 219L213 229L205 239M141 297L131 303L121 308L111 314M266 132L262 143L257 154L252 165L247 176L240 187L234 197L228 208L221 219L215 229L207 238M233 212L225 225L218 238L210 251L201 263" stroke="#145e44" stroke-width="0.70"/><path d="M155 241L146 243L137 245L127 246L118 247L108 248M182 237L174 242L165 247L156 251L147 254L137 257L128 259L118 260L109 262M211 221L203 228L195 236L186 243L178 250L169 257L160 262L150 267L140 272L130 275M240 175L234 185L229 196L223 206M266 129L260 140L255 151L249 163M263 144L258 155L252 166L247 178L240 189L234 200M229 209L222 220L215 231L207 241L199 250L190 260L182 270L173 279L164 288L155 296L145 303M199 252L191 261L183 270L175 279L166 287L157 295L148 303L139 310L129 316L119 322M182 289L172 302L161 315L149 327" stroke="#78c8a6" stroke-width="0.70"/></g>
<path d="M109.0,224.0L113.6,219.0L134.0,215.7L156.8,212.3L175.0,206.6L191.0,197.5L206.8,189.5L220.5,181.6L229.5,173.6L236.4,169.0L241.0,167.0L240.0,176.0L236.4,180.5L227.0,189.5L213.6,203.0L195.5,215.7L175.0,227.0L156.8,232.7L134.0,236.0L111.4,235.0L109.0,231.0Z" fill="#894845" />
<g clip-path="url(#cr)" opacity="0.55" fill="none" stroke-linecap="round"><path d="M75 150l41 -15M177 126l24 -9M207 115l39 -15M167 133l49 -13M82 172l44 -15M166 145l21 -7M83 174l30 -11M210 134l40 -11M113 168l48 -15M163 151l56 -20M117 184l21 -8M176 166l30 -11M208 156l25 -9M92 202l33 -12M193 171l21 -7M146 196l30 -11M208 187l24 -8M211 192l28 -9M235 193l44 -12M143 227l30 -8M133 248l56 -18M191 236l28 -8M112 264l26 -9M141 254l49 -13M190 241l30 -9M119 285l56 -21M222 251l44 -16M233 261l39 -14M273 249l44 -16" stroke="#5a2422" stroke-width="1.00"/><path d="M120 135l19 -6M195 112l42 -14M116 142l54 -17M78 159l31 -9M188 134l34 -11M114 160l41 -12M199 133l30 -8M84 179l30 -11M167 156l27 -9M120 177l36 -12M209 149l24 -7M207 165l20 -8M92 204l20 -8M117 195l51 -19M187 179l34 -13M213 176l52 -20M143 204l36 -14M98 221l34 -11M205 186l49 -15M237 178l54 -16M99 225l57 -18M101 230l50 -19M202 198l52 -17M199 211l24 -8M107 249l50 -16M247 209l41 -13M139 248l33 -11M171 239l52 -14M227 222l34 -9M111 263l26 -10M140 252l46 -15M114 272l41 -15M215 238l40 -13M209 254l53 -15M267 236l42 -14M226 253l28 -8M122 295l52 -17M151 287l54 -16" stroke="#5a2422" stroke-width="0.70"/><path d="M142 128l51 -16M135 133l54 -20M162 132l21 -6M121 149l43 -12M79 164l45 -17M225 118l48 -15M158 146l36 -11M115 164l42 -13M158 150l47 -17M111 172l34 -12M145 161l38 -11M126 178l54 -18M237 145l33 -11M91 200l22 -7M155 180l23 -7M130 190l36 -10M95 211l24 -8M97 217l25 -9M153 198l50 -14M97 219l42 -16M245 172l49 -15M100 228l19 -7M228 197l37 -12M239 201l24 -8M126 239l38 -12M157 232l31 -11M109 257l21 -8M194 229l40 -14M238 216l35 -12M192 237l19 -6M112 266l28 -9M172 255l49 -18M117 279l24 -9M142 272l39 -14M118 283l37 -13M177 270l46 -16M205 265l37 -12M122 297l29 -8M123 300l49 -15" stroke="#a25c58" stroke-width="1.00"/><path d="M75 152l55 -19M76 154l35 -11M172 123l44 -16M128 153l23 -9M82 171l28 -10M230 122l37 -10M84 177l25 -7M85 181l23 -6M229 135l32 -11M200 146l26 -9M211 147l55 -20M88 192l54 -18M90 196l22 -7M177 170l50 -16M151 187l23 -8M217 172l33 -10M96 215l34 -12M183 191l57 -15M147 207l56 -19M120 221l40 -14M153 215l50 -18M130 226l50 -14M180 213l47 -16M177 216l33 -10M190 217l47 -15M170 226l36 -12M207 213l54 -19M230 209l40 -14M108 252l53 -17M236 215l21 -6M175 237l36 -13M110 259l56 -21M224 229l57 -17M190 244l48 -14M116 277l34 -12M203 248l48 -13M225 246l24 -7M120 291l24 -8M211 261l42 -12" stroke="#a25c58" stroke-width="1.30"/><path d="M194 114l47 -13M77 158l44 -14M79 162l37 -13M216 117l37 -13M80 166l25 -9M132 157l30 -11M146 160l39 -14M89 194l28 -8M141 177l30 -11M116 188l47 -16M166 172l50 -14M221 153l20 -7M171 178l19 -7M93 206l56 -18M94 209l40 -13M217 174l46 -15M136 202l52 -14M123 209l28 -10M153 213l44 -13M102 233l48 -14M215 204l52 -15M106 246l19 -6M253 204l39 -14M108 254l55 -15M224 225l54 -18M143 256l44 -14M141 265l30 -9M117 281l53 -17M172 263l51 -15M168 274l42 -12M179 277l54 -15M175 284l45 -13" stroke="#a25c58" stroke-width="0.70"/><path d="M221 108l31 -11M153 140l51 -15M209 122l26 -8M165 139l56 -17M219 128l42 -13M223 131l35 -12M233 132l35 -12M140 169l43 -13M87 188l33 -11M159 166l49 -17M90 198l31 -10M170 178l36 -13M222 167l29 -9M191 184l22 -6M160 201l43 -16M160 206l21 -6M241 182l35 -10M236 188l44 -14M102 235l24 -7M180 211l52 -20M104 240l39 -11M226 203l38 -10M110 258l28 -8M213 225l23 -9M154 264l49 -16M256 231l47 -17M261 233l23 -8M249 239l56 -15M120 288l56 -17" stroke="#b06a66" stroke-width="1.00"/><path d="M124 142l51 -18M107 157l55 -18M118 168l22 -8M189 145l43 -14M137 167l25 -9M227 137l27 -9M183 155l22 -8M235 141l20 -7M234 148l22 -7M123 187l54 -17M232 152l26 -8M117 191l35 -11M228 159l52 -16M175 179l57 -18M237 159l50 -15M95 214l51 -15M98 223l47 -15M214 188l56 -15M209 198l27 -8M192 222l35 -10M167 235l45 -15M215 231l34 -9M113 269l24 -7M181 259l33 -13M176 266l42 -14M145 282l20 -7M256 247l47 -13M150 283l55 -15M206 270l27 -9" stroke="#b06a66" stroke-width="1.30"/><path d="M111 149l46 -15M188 124l42 -16M126 149l21 -6M81 168l43 -13M155 145l29 -9M86 184l48 -16M86 186l50 -14M88 190l33 -11M181 160l21 -7M206 152l31 -11M145 174l50 -18M178 171l39 -14M221 158l44 -12M216 163l47 -17M135 195l51 -18M121 202l52 -16M179 183l33 -10M205 181l52 -18M137 209l21 -7M165 207l46 -15M105 242l48 -17M105 245l39 -13M148 231l41 -15M204 221l49 -18M216 219l30 -8M260 207l21 -7M249 220l28 -8M139 261l46 -16M157 257l53 -17M257 224l36 -13M115 273l23 -6M250 230l41 -13M159 270l47 -16M259 242l43 -12M233 259l54 -20M222 269l55 -18" stroke="#5a2422" stroke-width="1.30"/><path d="M226 121l33 -12M192 136l26 -10M183 149l41 -14M201 156l36 -10M181 186l32 -10M181 198l32 -11M103 237l36 -14M142 225l36 -13M159 225l38 -12M161 234l40 -12M239 228l31 -8M225 238l24 -8M215 247l42 -14M121 292l25 -8M242 252l33 -9" stroke="#b06a66" stroke-width="0.70"/></g>
<path d="M110.0,226.0C110.6,224.8 109.6,220.7 113.6,219.0C117.6,217.3 126.8,216.8 134.0,215.7C141.2,214.6 150.0,213.8 156.8,212.3C163.6,210.8 169.3,209.1 175.0,206.6C180.7,204.1 185.7,200.3 191.0,197.5C196.3,194.7 201.9,192.2 206.8,189.5C211.7,186.8 216.7,184.2 220.5,181.6C224.3,178.9 226.8,175.7 229.5,173.6C232.2,171.5 235.2,169.8 236.4,169.0" fill="none" stroke="#3a1410" stroke-width="1.1" opacity="0.7"/>
<path d="M110.0,231.0C110.3,231.6 108.7,233.5 112.0,234.5C115.3,235.5 123.7,236.8 130.0,237.0C136.3,237.2 143.9,236.6 150.0,235.5C156.1,234.4 161.7,232.1 166.7,230.6C171.7,229.1 175.2,229.0 180.0,226.5C184.8,224.0 192.9,217.5 195.5,215.7" fill="none" stroke="#2a3a2a" stroke-width="1" opacity="0.5"/>
<path d="M114.0,181.0L118.0,165.0L124.0,150.0L132.7,136.0L144.0,124.0L157.0,114.0L166.0,107.5L176.0,101.8L186.0,97.0L195.8,94.5L208.0,94.5L220.0,95.8L232.0,100.0L243.0,106.0L251.0,110.5L258.0,114.0L261.0,120.0L260.0,128.5L254.0,138.0L247.6,146.7L240.0,157.0L236.4,169.0L229.5,173.6L220.5,181.6L206.8,189.5L196.0,194.5L184.0,194.0L172.7,188.4L156.8,180.5L145.0,178.0L134.0,177.0L122.0,178.5Z" fill="#76477a" />
<g clip-path="url(#cp)" opacity="0.65" fill="none" stroke-linecap="round" stroke-linejoin="round"><path d="M117 170L120 161L124 152L128 144L134 136L140 129L147 122L155 116M215 97L224 99L233 102L242 106L250 111L258 115L261 124M114 185L119 178L124 172L129 167L134 162L140 158M145 164L151 163L158 162L165 161L172 160L180 158M165 175L173 176L181 176L189 175L197 171L204 167L212 163M255 134L258 131L261 128M171 185L179 188L187 188L195 187L203 183L210 179L217 175M239 155L242 149L247 144L252 138L257 133L261 128" stroke="#4a1e4a" stroke-width="1.30"/><path d="M160 113L167 108L176 103L184 99L193 96L203 95L212 96L222 97M169 115L177 111L185 106L194 103M153 145L160 142L168 138L176 134M221 119L229 119L236 118L243 119L250 120L258 121L261 125M179 156L187 152L194 148L202 144L210 141L218 138L226 136L232 133M132 170L138 167L145 164L151 163L158 162L164 162L172 161L179 159M210 144L217 141L225 139L231 136L236 133L242 131L248 129L254 127M116 185L122 179L129 174L136 171M125 178L130 174L137 173L143 171L150 170L156 170L163 170L170 171M152 171L159 171L165 172L172 173L179 173L187 172L194 168M161 176L168 178L175 180L183 180L191 179L198 175M201 174L208 170L215 166L221 162L228 158L234 154L238 149L242 144M236 158L239 152L244 146L248 141L254 136M132 179L141 179L150 179L158 181L166 184L174 188" stroke="#b48ab4" stroke-width="0.70"/><path d="M222 97L232 100L241 105L249 110L258 114M137 134L143 127L150 122L157 116L165 111L173 106M251 117L258 119L261 125M211 114L219 113L227 113L234 113L241 115L249 117L256 119M179 134L187 129L196 125L204 122L213 120M115 185L119 179L124 173L128 168M115 185L120 179L125 174L130 170M236 144L242 139L249 134L256 130M119 185L126 182L133 179L141 179L148 180M209 186L216 182L222 178L228 173L234 169" stroke="#946494" stroke-width="1.00"/><path d="M259 115L261 119L261 124M234 109L242 112L250 115L258 118L261 125M143 138L150 134L157 130L164 125L171 121L178 117M131 154L137 148L143 143L149 138L157 134L164 130L172 126L180 121M226 111L234 112L242 115L250 117L258 119L261 125M176 130L185 125L194 120L204 117L213 115M119 177L126 168L133 161M167 144L175 140L183 136L191 132L199 128M233 142L238 137L244 134L251 131M149 169L155 169L162 169L169 169L176 169L184 168L191 165L198 161M255 131L258 129L261 127M170 185L180 190L191 190M226 171L233 166L238 160L241 152L246 146L251 140L257 133M123 184L131 180L139 180L148 181L157 182L165 186" stroke="#946494" stroke-width="1.30"/><path d="M112 184L115 175L118 167L121 159L125 150L130 143L135 136M170 113L178 108L186 104L195 101L205 100L214 100M217 100L225 102L234 104L241 108L249 112L257 115L261 122M236 131L243 129L250 127L257 126L261 126M115 185L123 178L130 171M125 177L132 173L139 170L146 168L154 168L161 168M123 181L130 177L137 176L144 175L151 174L158 176M166 181L173 184L180 186L188 186M221 172L227 167L234 164L238 158M194 190L201 187L209 183L216 179L222 174M174 188L181 191L189 191L196 190" stroke="#b48ab4" stroke-width="1.00"/><path d="M177 104L187 99L198 97L209 96M139 137L147 130L156 124L166 117M114 183L117 175L120 168L124 161L128 154L133 148L138 143M248 114L257 117L261 125M121 168L125 161L129 155L134 149M194 111L203 109L211 108L220 108L227 109L235 110L242 113L249 115L257 118M209 117L219 116L229 116L237 116M129 163L133 158L139 153L145 149L151 146M138 156L144 152L151 149L158 146L166 144L174 140M230 123L236 122L242 122L248 123L255 123M159 153L167 151L175 147L184 143L193 139M186 146L194 141L203 137L211 134L220 131L228 129M232 128L239 126L246 125L253 125L259 125M122 177L127 171L132 168L138 164L144 161L150 159M217 135L226 133L232 130L239 128L246 127L253 126M210 149L217 146L224 143L231 140L235 137L240 134L246 131L252 129L257 127M166 176L173 178L181 179L188 178L196 174L203 170L210 167L217 163M214 171L221 166L227 162L234 158L237 152M119 185L126 181L133 177L141 177L149 177L156 178L163 180" stroke="#4a1e4a" stroke-width="0.70"/><path d="M112 184L116 175L119 165L123 156M117 171L121 162L125 153L131 144L137 137M153 128L161 123L169 118L177 113L186 109L194 106L204 104M135 145L141 139L147 134L154 130L161 126L169 121L176 117M145 155L153 152L161 150L170 147M212 128L220 126L228 125L234 123L241 123L248 123L255 123M255 125L259 125L261 126M233 131L239 129L245 127L251 126L257 125L261 126M139 165L146 163L152 161L159 160L167 159L174 157M257 126L259 126L261 127M116 185L121 180L126 175L132 171L138 169L145 166M151 165L158 164L165 164L173 164L181 162L188 159L196 155L204 151M253 130L258 128L261 127M117 186L123 181L130 176L137 174L145 173L152 173L159 174M199 176L206 172L214 168L221 164L228 159L234 155M238 152L242 146L247 141L252 137L257 132L261 128M176 184L184 185L192 184L199 180L206 177L214 173L220 168M144 179L153 179L161 182L170 185M235 166L238 159L242 152L246 146L251 140L256 134L261 128" stroke="#5a295a" stroke-width="0.70"/><path d="M126 150L131 143L137 137L143 131M245 110L252 114L259 117L261 124M116 180L119 172L123 166L127 159M116 179L120 172L125 166L129 160L135 154M218 115L226 115L234 115L241 116L248 118L256 119L261 124M219 122L226 121L232 120L239 120L245 121L252 121L258 122L261 126M160 149L168 146L177 143L186 138L195 133M115 185L119 179L124 173L129 168L134 164L140 160M121 177L127 170L133 166L140 162L146 158M157 158L163 157L170 155L177 153L185 149L192 146M133 168L141 164L148 161L156 159M181 153L189 149L196 145L203 142L211 139L218 136L226 134L231 132M188 154L196 150L203 146L211 142L219 139L227 137M254 127L258 126L261 126M175 167L183 165L191 161L199 157L207 153M217 160L224 156L231 153L235 148L239 143L244 139L250 135L255 132L260 129M221 160L228 157L234 153L238 147L242 142L247 138L253 134M167 180L173 182L180 184L188 183L195 181L202 177L209 174" stroke="#a67aa6" stroke-width="1.00"/><path d="M147 127L155 121L164 115L174 109M129 150L136 142L144 135L152 129M187 112L195 109L204 107L213 107L222 107L229 108L237 110L245 113M136 153L142 148L149 143L156 140L164 136L173 131M223 118L230 118L237 118L244 119M174 145L182 141L191 137L199 132L208 129M178 147L187 143L195 138L204 135L212 131L221 129L229 127M120 180L125 174L131 170L137 166M123 179L128 174L134 171L139 169L146 166L152 166M233 141L238 137L244 134L250 131L257 128L261 127M122 183L129 179L136 177L144 177L151 176L159 178L166 180L173 183M148 178L156 179L163 181L170 184" stroke="#946494" stroke-width="0.70"/><path d="M176 108L184 104L192 101L201 99L209 99L218 100L226 102M256 114L260 119L261 124M203 102L213 102L222 102L231 105L239 108M115 181L119 173L123 166L127 160L132 154L138 149L144 145M245 118L252 119L258 121L261 125M182 135L189 132L197 128L205 125L212 123M237 125L244 124L251 124L257 124L261 126M234 126L241 125L247 124L254 124L259 125M163 168L171 168L180 167L189 164M242 136L249 133L256 129L261 127M224 150L231 147L235 143L240 138L246 135L252 132M255 130L258 128L261 127M129 176L136 174L142 173L149 171L156 172L163 173L169 174L176 175L184 174M236 152L240 146L246 141L251 136L257 132L261 128M131 177L138 176L145 176L152 176L159 178" stroke="#4a1e4a" stroke-width="1.00"/><path d="M231 103L239 106L247 110L255 114M180 114L189 110L198 107L208 106L217 106L226 107L234 108M139 143L145 138L152 134L159 130L166 126L174 121L181 117L189 113M188 117L196 114L204 112L213 111L221 111L229 111L236 112L243 114M113 184L117 177L121 170L125 163M139 154L144 150L151 147L158 144L165 141L172 137M120 177L125 170L130 165L135 161L141 156L148 153L154 151M180 159L190 154L199 150L208 145M202 164L209 160L215 157L222 153L229 150L234 146M222 155L229 151L234 147L238 142L243 139L249 135M117 186L120 183L124 181M254 135L258 131L261 128M207 191L214 187L220 183L226 177L233 172L238 167L240 160L244 153M245 151L249 144L254 138L258 132" stroke="#a67aa6" stroke-width="0.70"/><path d="M143 132L151 125L160 119L169 113M114 180L117 172L120 164L124 157L128 150L133 143M203 127L210 125L218 123L226 122L232 121L239 121L245 121L252 122M257 122L259 124L261 126M146 157L153 155L159 153L166 152L173 149M192 146L202 140L213 136M156 165L163 165L170 165L178 164L186 161L194 157L202 153L210 149M207 153L215 149L222 146L230 143M174 172L182 170L189 168L196 164L203 161L210 157L216 154L223 150M122 182L129 177L136 175L143 174L150 173L157 174L164 176M221 168L228 163L235 159L238 153L242 147L247 142L252 136M236 168L239 160L242 153L247 147L251 141L256 134L261 128" stroke="#b48ab4" stroke-width="1.30"/><path d="M113 184L116 176L119 169L123 161L126 154M210 103L219 104L228 105L236 107L243 111L251 114L258 117L261 125M113 184L116 177L119 169L123 162L127 155L132 149M150 141L156 137L163 134L171 130L178 125L186 121L193 118L201 115M114 185L119 177L124 169L129 162L136 156M197 136L205 133L212 131L220 129L227 127L233 125M148 158L155 156L163 154L170 152L178 149M157 159L165 158L173 156L181 153M241 133L246 131L252 129L257 127L261 127M256 130L259 128L261 127M193 185L201 182L208 178L215 174L222 169L229 164L235 160M118 186L125 182L133 178L141 178M172 189L180 194L189 196L199 194" stroke="#5a295a" stroke-width="1.30"/><path d="M126 161L132 154L137 148L144 143L151 138L159 134M160 134L168 129L176 125L184 120L193 116L202 113L211 112L220 112M117 179L121 171L126 164L132 158L138 152L145 147M152 143L159 140L167 136L175 132L183 127L191 123L199 120L207 118M185 129L193 125L201 122L209 120L217 119M117 180L122 173L126 168L131 163L136 158L142 154L148 151L154 148L161 146M204 130L212 127L220 125L227 124M129 167L134 163L140 160L146 157L152 155M229 136L235 133L241 130L248 129M207 149L215 145L223 142L230 139L236 136M123 179L129 174L135 172L141 170L148 169M199 160L207 156L215 152L223 148L231 145L236 141L241 137M256 131L259 129L261 128M244 141L250 136L256 132L261 128M117 186L126 181L134 178L142 178M150 180L158 182L165 185L172 188L179 191L186 194L194 193L201 191L208 187" stroke="#a67aa6" stroke-width="1.30"/><path d="M114 184L119 177L123 169L128 163M246 119L256 121L261 125M115 185L121 179L126 173L132 170L139 166M139 170L146 168L153 167L160 167L168 167M191 163L199 159L207 155L214 151L221 148L229 145M121 182L127 177L134 174L141 172L149 171M187 173L196 169L204 164L213 160L221 156M128 179L135 176L142 175L150 175M156 175L162 177L169 179L177 181L184 181L192 179M200 188L207 185L214 181L221 176L227 171L234 167" stroke="#5a295a" stroke-width="1.00"/></g>
<path d="M292.0,133.5C291.5,136.3 290.0,145.2 289.0,150.4C288.0,155.7 286.9,160.3 286.0,165.0C285.1,169.7 284.4,174.3 283.7,178.6C283.0,182.9 282.6,185.8 282.0,191.0C281.4,196.2 280.7,204.0 280.0,210.0C279.3,216.0 278.9,221.7 278.0,227.0C277.1,232.3 275.8,238.2 274.5,242.0C273.2,245.8 271.6,243.8 270.0,250.0C268.4,256.2 266.6,271.8 265.0,279.5C263.4,287.2 262.2,290.5 260.4,296.4C258.6,302.3 256.1,308.9 254.0,315.0C251.8,321.1 250.8,325.5 247.5,333.0C244.2,340.5 238.6,350.8 234.0,360.0C229.4,369.2 223.8,380.2 220.0,388.0C216.2,395.8 213.9,400.7 211.0,407.0C208.1,413.3 205.3,420.3 202.5,426.0C199.7,431.7 196.9,436.2 194.0,441.0C191.1,445.8 188.2,450.2 185.0,455.0C181.8,459.8 178.3,465.2 175.0,470.0C171.7,474.8 169.2,478.5 165.0,484.0C160.8,489.5 155.2,496.7 150.0,503.0C144.8,509.3 136.7,518.8 134.0,522.0" fill="none" stroke="#4a3e18" stroke-width="1" opacity="0.7"/>
<path d="M271.7,129.3C271.4,131.1 270.6,136.6 270.0,140.0C269.4,143.4 269.0,146.7 268.0,150.0C267.0,153.3 265.4,157.0 264.0,160.0C262.6,163.0 261.1,164.7 259.7,168.0C258.3,171.3 257.5,176.3 255.7,180.0C253.9,183.7 251.3,186.7 249.0,190.0C246.7,193.3 244.8,196.2 242.0,200.0C239.2,203.8 235.2,208.8 232.5,213.0C229.8,217.2 228.5,219.6 225.6,225.0C222.7,230.4 218.8,239.3 215.0,245.5C211.2,251.7 207.2,256.2 203.0,262.0C198.8,267.8 194.2,274.2 190.0,280.0C185.8,285.8 182.2,291.3 178.0,297.0C173.8,302.7 169.3,308.8 165.0,314.0C160.7,319.2 156.2,323.7 152.0,328.0C147.8,332.3 144.2,336.0 140.0,340.0C135.8,344.0 131.3,348.3 127.0,352.0C122.7,355.7 116.2,360.3 114.0,362.0" fill="none" stroke="#1f3a20" stroke-width="1" opacity="0.6"/>
<path d="M265.7 129.7l0.7 -2.2M304.5 134.1l0.4 -4.4M281.1 129.0l-0.2 -5.0M295.4 132.9l-0.7 -4.7M277.8 129.7l-0.6 -2.7M303.5 133.1l0.8 -4.8M303.2 132.3l0.2 -3.3M303.1 132.8l0.7 -4.6M283.6 129.9l0.2 -3.9M284.9 131.1l0.1 -2.2M282.3 130.7l0.5 -4.7M271.3 128.4l0.8 -4.0M285.0 131.1l0.5 -3.2M272.4 129.1l-0.5 -4.8M280.7 129.2l0.4 -2.4M303.6 133.5l-0.1 -4.5M303.7 131.7l-0.1 -2.7M303.2 133.5l0.4 -4.6M282.0 130.8l0.5 -4.7M291.7 133.0l-0.7 -2.3M267.5 127.5l0.6 -4.9M293.2 132.6l-0.6 -4.3" stroke="#333" stroke-width="0.9" fill="none" opacity="0.7"/>
<ellipse cx="121.5" cy="291" rx="6" ry="4.5" fill="#1a5040" transform="rotate(-25 121.5 291)"/><ellipse cx="120" cy="292.5" rx="2.3" ry="2" fill="#e8f0ea" transform="rotate(-40 120 292.5)"/>
<path d="M199.0,48.5L203.0,54.0L208.0,60.6L217.0,68.0L226.4,75.0L235.0,82.0L244.5,88.5L253.0,93.0L261.5,97.0L263.0,103.0L262.5,108.0L261.5,112.7L253.0,111.0L244.5,108.0L235.0,103.0L226.4,98.0L217.0,92.5L208.0,86.0L203.0,80.0L201.0,74.0L199.5,62.0Z" fill="#cfcfcf" />
<g clip-path="url(#ct)"><path d="M199.0,48.5L203.0,54.0L208.0,60.6L217.0,68.0L226.4,75.0L235.0,82.0L244.5,88.5L253.0,93.0L261.5,97.0L263.0,103.0L255.0,100.0L245.0,96.0L234.0,90.0L224.0,83.0L214.0,77.0L206.0,71.0L201.0,67.0Z" fill="#6a6a6a"/><path d="M203.0 66.0l-0.0 -4M207.4 69.2l0.8 -4M211.7 72.4l-0.6 -4M216.2 75.5l-0.1 -4M220.7 78.5l0.6 -4M225.2 81.5l-0.4 -4M229.6 84.6l-0.7 -4M234.0 87.7l0.5 -4M238.4 90.9l-0.3 -4M243.0 93.7l0.5 -4M247.6 96.5l0.0 -4M252.3 99.2l0.3 -4M257.2 101.6l0.4 -4M262.0 104.0l0.1 -4" stroke="#ddd" stroke-width="1.2" fill="none"/><path d="M205.0 70.0l-3.0 14.0M215.0 79.0l-3.0 14.0M226.0 86.0l-3.0 14.0M237.0 94.0l-3.0 14.0M248.0 100.0l-3.0 14.0M256.0 104.0l-3.0 14.0" stroke="#222" stroke-width="1.3" fill="none"/></g>
<path d="M199.0,48.5L203.0,54.0L208.0,60.6L217.0,68.0L226.4,75.0L235.0,82.0L244.5,88.5L253.0,93.0L261.5,97.0L263.0,103.0L262.5,108.0L261.5,112.7L253.0,111.0L244.5,108.0L235.0,103.0L226.4,98.0L217.0,92.5L208.0,86.0L203.0,80.0L201.0,74.0L199.5,62.0Z" fill="none" stroke="#151515" stroke-width="2"/>
<path d="M194.0,29.0C195.0,30.7 198.0,35.8 200.0,39.0C202.0,42.2 203.8,45.2 206.0,48.5C208.2,51.8 210.4,55.4 213.0,59.0C215.6,62.6 218.7,67.0 221.5,70.0C224.3,73.0 226.9,75.0 230.0,77.0C233.1,79.0 236.5,80.2 240.0,82.0C243.5,83.8 247.2,86.0 251.0,88.0C254.8,90.0 259.0,92.5 262.5,94.0C266.0,95.5 268.8,96.4 272.0,97.0C275.2,97.6 278.7,97.8 282.0,97.6C285.3,97.4 288.9,96.5 292.0,96.0C295.1,95.5 298.3,95.0 300.5,94.8C302.7,94.6 303.8,94.4 305.0,94.6C306.2,94.8 307.1,94.7 308.0,96.0C308.9,97.3 310.0,100.2 310.4,102.5C310.8,104.8 310.6,107.7 310.6,110.0C310.6,112.3 310.6,114.1 310.4,116.6C310.2,119.1 309.8,122.2 309.6,125.0C309.4,127.8 309.4,130.7 309.0,133.5C308.6,136.3 308.0,139.2 307.5,142.0C307.0,144.8 306.9,147.4 306.0,150.4C305.1,153.4 302.7,158.4 302.0,160.0" fill="none" stroke="#151515" stroke-width="2.6" stroke-linejoin="round"/>
<path d="M148.0,598.0L149.5,590.0L154.0,586.0L159.0,584.8L164.0,586.0L167.5,591.0L168.5,598.0L167.0,606.0L162.0,614.0L158.0,621.0L155.0,630.0L151.0,622.0L148.5,610.0Z" fill="#fff" stroke="#444" stroke-width="0.8"/>
<g clip-path="url(#cb)"><path d="M131.9 728.8l-1.5 -6.1M125.1 723.8l-3.5 -14.0M123.8 726.2l-1.9 -7.6M127.8 725.9l-3.4 -13.5M126.4 712.0l-1.8 -7.1M142.0 763.5l-5.5 -21.9M112.9 732.1l-3.1 -12.3M136.8 745.2l-3.3 -13.4M144.6 757.7l-4.2 -16.8M137.3 750.6l-3.9 -15.8M133.0 732.9l-3.7 -14.9M123.8 704.1l-1.7 -6.8M117.7 734.0l-2.5 -10.2M138.5 738.5l-4.0 -16.1M139.0 736.8l-3.0 -12.2M135.2 737.4l-4.4 -17.5M134.5 725.8l-2.1 -8.3M145.6 758.4l-2.7 -10.6M120.3 729.5l-3.4 -13.7M135.1 730.9l-3.9 -15.5M120.7 717.9l-1.6 -6.5M122.1 712.8l-1.8 -7.3M143.9 752.8l-4.6 -18.4M146.5 765.4l-2.3 -9.3M141.0 752.2l-4.5 -18.1M134.9 725.8l-2.6 -10.4M118.6 704.7l-2.3 -9.3M132.3 756.5l-2.2 -8.7M137.0 743.2l-2.2 -8.8M124.8 705.3l-1.0 -4.1M121.6 715.0l-2.1 -8.3M129.1 715.2l-2.4 -9.5M132.7 718.4l-3.3 -13.3M145.7 763.3l-2.6 -10.2M122.4 703.6l-2.1 -8.5M137.0 767.5l-3.1 -12.3M135.1 741.6l-3.8 -15.4M126.9 711.9l-2.7 -10.6M130.8 713.1l-3.0 -12.0M135.1 732.2l-3.8 -15.1M143.1 765.0l-4.0 -15.9M140.6 741.8l-4.3 -17.2M141.6 748.0l-4.1 -16.4M131.7 715.5l-2.3 -9.3M124.7 711.7l-2.3 -9.2M141.3 766.2l-3.0 -12.1M129.2 713.3l-2.8 -11.4M128.1 763.7l-5.2 -20.9M144.1 756.3l-4.9 -19.7M139.2 748.0l-3.9 -15.5M128.3 723.0l-1.7 -6.8M129.3 714.4l-3.0 -11.8M124.2 718.1l-2.5 -10.0M143.7 749.8l-3.5 -14.1M137.2 768.0l-2.0 -7.9M135.3 739.0l-3.8 -15.0M133.7 748.0l-4.5 -18.0M127.2 758.3l-4.0 -16.0M132.4 761.6l-2.6 -10.6M135.4 725.7l-3.0 -12.2M117.2 728.6l-2.7 -10.7M131.4 737.1l-2.9 -11.7M126.1 723.2l-3.6 -14.5M134.6 743.5l-3.5 -14.1M127.1 704.1l-1.7 -6.7M128.6 745.0l-3.3 -13.1M127.3 719.1l-1.4 -5.7M117.1 706.2l-1.7 -6.9M135.2 735.1l-4.1 -16.4M140.7 751.0l-5.1 -20.3M136.9 761.0l-4.1 -16.3M137.2 731.5l-2.6 -10.4M116.5 705.1l-2.3 -9.1" stroke="#2a2a2a" stroke-width="0.8" fill="none" opacity="0.85"/></g>
<path d="M114,768 L126,738 L140,745 L152,768 Z" fill="#666" opacity="0.25" filter="url(#bl2)"/>
<path d="M100.0 716.7l-0.5 17.9M103.6 747.9l-0.5 7.3M101.9 749.8l-0.5 10.4M101.2 763.7l-0.5 17.8M100.7 748.4l-0.5 14.9M100.1 758.7l-0.5 12.6M100.2 712.5l-0.5 18.0M98.3 759.7l-0.5 7.6M98.4 715.7l-0.5 11.7M99.6 744.8l-0.5 13.0M98.5 715.2l-0.5 12.8M98.3 731.8l-0.5 15.3M97.1 707.5l-0.5 17.6M103.8 750.1l-0.5 9.8M100.0 752.2l-0.5 17.1M103.0 707.8l-0.5 16.3" stroke="#444" stroke-width="0.7" fill="none" opacity="0.7"/>
<g clip-path="url(#cst)"><g filter="url(#bl)"><path d="M165,715 L205,748 L200,788 L172,782 Z" fill="#555" opacity="0.5"/><path d="M198,795 L229,790 L229,830 L205,834 Z" fill="#888" opacity="0.3"/></g></g>
<g clip-path="url(#cst)"><path d="M230.3 710.1l-0.1 1.1M165.0 749.9l-0.1 1.0M188.7 727.4l-0.8 2.9M189.9 770.6l0.9 2.7M172.8 778.6l-0.7 1.8M216.7 784.0l0.4 2.9M152.5 691.5l-0.3 1.0M200.9 754.5l-0.1 1.1M158.7 704.0l-0.1 1.9M189.2 713.9l1.5 2.7M216.3 745.2l-1.6 2.9M222.9 826.1l0.5 2.1M208.3 752.2l-0.4 1.0M189.9 750.9l1.0 1.3M151.0 826.3l-0.2 3.2M190.8 741.0l-0.2 1.0M223.0 713.9l-0.4 1.9M207.7 829.1l1.3 2.5M181.3 746.8l0.4 1.6M151.7 747.5l-0.5 2.5M211.3 809.5l-0.9 1.3M179.7 700.2l-1.6 2.4M198.6 740.3l-0.7 1.8M225.4 805.9l-0.9 1.2M226.5 698.9l-0.6 1.3M218.0 777.6l0.5 0.9M204.2 722.3l-2.0 2.7M168.1 820.9l-0.9 2.3M154.4 729.9l-0.4 1.9M216.1 754.4l-0.1 2.9M180.7 800.5l1.1 2.5M169.8 714.0l0.9 2.2M171.9 749.9l0.4 1.5M206.1 836.6l-0.6 1.6M181.4 714.7l0.9 1.7M191.0 691.4l-0.3 3.5M196.0 735.0l-0.0 2.7M231.4 812.9l0.0 1.1M225.9 786.1l0.6 1.0M231.9 700.0l-0.7 2.7M144.8 812.2l0.2 1.4M205.1 744.1l-1.0 1.5M192.1 776.6l0.6 1.2M185.4 748.5l-0.0 1.7M196.7 770.7l-1.4 2.7M181.0 735.2l0.7 2.9M196.5 716.3l-1.1 3.0M198.3 753.5l1.1 2.0M202.6 821.6l-0.9 3.2M187.0 755.3l-0.2 3.2M208.6 832.6l0.8 2.3M178.5 724.3l0.9 1.9M229.1 771.8l-1.0 1.6M150.2 715.7l0.0 2.8M224.0 807.8l-0.3 1.2M227.8 771.2l1.3 2.2M149.8 700.4l-0.7 2.1M152.1 795.3l-0.4 3.0M200.1 825.5l0.8 3.3M190.4 751.1l-0.7 2.4M230.4 792.1l0.8 2.2M173.6 820.5l0.6 2.2M153.1 764.3l1.4 2.2M175.4 783.0l-0.7 1.9M189.4 782.5l1.6 2.0M155.0 705.9l0.2 3.5M143.4 817.2l1.0 2.2M185.2 794.4l-0.3 2.9M207.3 797.8l-0.3 1.8M143.2 747.2l1.0 2.4M167.6 730.6l0.5 2.4M231.8 810.7l0.0 1.3M223.8 828.9l-1.2 1.9M172.1 804.1l1.1 2.9M151.8 762.7l0.9 3.2M213.3 762.6l-0.8 2.4M177.5 780.9l-0.6 1.0M185.3 791.7l0.6 1.5M163.9 742.5l-0.5 2.6M173.1 737.5l1.4 1.9M158.8 749.1l0.3 2.1M198.3 754.0l1.0 1.7M176.3 790.7l-0.6 2.7M181.5 762.4l-0.6 0.8M184.0 779.2l-1.3 2.8M169.6 786.1l0.4 3.0M158.3 702.2l-1.5 1.9M176.0 736.8l0.7 1.5M209.9 781.4l0.4 1.9M160.3 825.0l-0.9 2.2M206.8 708.4l0.9 3.2M221.5 788.5l-2.0 2.9M193.3 709.4l0.7 1.1M147.2 729.3l0.7 2.3M212.7 735.8l0.6 2.6M180.5 741.0l-0.8 1.9M197.9 830.9l0.5 2.2M228.4 771.0l-0.5 2.5M224.7 837.1l1.7 2.4M190.6 749.9l-0.4 2.3M230.5 821.7l-0.1 3.1M157.4 710.3l0.6 2.3M179.9 774.9l0.2 2.7M149.3 772.4l-1.6 2.8M192.1 818.0l0.6 3.3M146.6 794.4l0.3 1.9M187.2 798.6l0.1 1.8M188.7 721.2l0.8 2.2M199.3 767.7l1.1 2.2M228.3 838.9l-1.7 3.0M214.5 817.3l-1.7 2.3M205.0 696.0l0.1 1.1M210.0 819.5l1.2 2.5M226.2 750.5l-0.4 1.0M202.8 837.5l-0.4 2.4M197.7 805.4l1.7 2.6M195.4 756.1l0.7 1.2M227.6 796.2l1.2 1.7M208.1 735.3l-1.2 2.8M171.8 703.1l1.0 1.6M160.7 712.3l-0.4 2.8M210.8 818.5l0.5 2.3M185.7 758.8l1.0 1.9M218.1 705.3l2.0 2.5M151.1 833.8l0.0 2.9M230.1 793.5l1.3 2.6M179.3 764.5l-0.8 2.5M221.5 728.8l-0.7 1.2M227.6 784.1l-0.3 3.0M165.6 730.4l0.5 2.2M213.2 776.1l0.7 3.3M144.7 789.3l-0.5 2.1M157.5 825.8l1.3 2.1M228.8 756.9l-0.8 1.3M177.7 746.2l-0.5 2.9M163.1 788.5l-0.5 1.9M154.2 694.7l-0.2 2.2M231.9 812.4l0.6 2.0M173.1 810.7l1.9 2.7M191.8 714.9l-1.9 2.4M165.8 692.1l0.5 1.2M175.3 784.2l-1.8 2.7M230.1 822.0l-0.7 1.1M202.7 747.5l-0.3 2.8M179.8 818.1l-1.2 3.2M144.9 763.0l0.0 1.5M181.8 735.4l0.7 0.9M187.3 779.9l-1.2 1.6M170.5 816.6l-0.3 2.1M170.7 746.0l0.5 1.4M178.9 705.3l-0.7 3.2M152.6 690.1l0.3 1.3M173.7 823.0l-1.4 2.7M181.5 763.2l-0.0 1.2M144.4 735.0l0.0 3.1M215.4 722.4l-0.4 1.2M229.2 706.6l0.4 1.0M216.0 802.4l-0.7 1.3M172.4 702.8l-0.8 1.6M173.0 711.9l-0.7 2.9M192.3 794.9l0.4 2.0M185.3 834.9l1.0 2.0M210.7 828.9l-0.1 2.2M170.6 800.8l-1.3 1.8M230.1 746.2l-1.3 2.0M199.7 805.6l0.9 3.1M153.1 814.1l1.5 2.7M213.3 750.6l-1.2 1.9M175.5 767.6l0.2 3.5M183.6 783.8l-0.6 2.1M220.1 809.3l-1.0 1.3M181.9 783.1l0.1 1.1M195.7 695.8l0.7 0.9M210.7 810.3l-0.5 3.4M230.6 799.4l0.1 2.1M179.1 721.5l0.2 1.1M173.3 754.6l-0.2 2.0M211.3 799.7l1.0 1.5M219.2 736.9l-0.7 2.1M153.8 749.8l0.5 2.8M195.1 730.6l-2.1 2.7M211.1 752.5l-1.0 3.2M191.0 758.4l-0.5 3.5M224.7 751.2l0.2 1.2M147.5 812.8l-0.1 1.8M178.8 812.4l0.6 0.9M163.8 771.8l-0.8 1.0M210.3 790.5l-0.3 2.9M207.4 801.8l1.6 2.3M225.6 747.2l1.2 1.7M181.0 762.8l1.3 2.2M213.1 831.8l0.0 2.3M159.7 758.6l0.6 1.4M222.1 709.5l-0.5 1.5M198.9 837.6l0.8 2.6M192.6 740.8l-0.5 3.4M190.4 764.7l0.6 0.9M181.9 739.3l1.6 2.6M228.3 775.0l1.1 2.8M202.6 761.1l0.0 1.9M174.9 763.4l0.2 1.8M151.0 797.8l0.7 2.2M172.6 711.0l2.0 2.8M189.1 767.3l1.2 2.0M212.5 705.2l-0.4 2.3M213.1 758.5l1.1 1.8M190.5 761.3l0.0 2.0M200.4 807.8l-0.6 2.5M203.4 810.6l-1.1 3.0M150.1 771.7l-0.6 0.9M223.5 706.5l-1.2 2.6M163.3 727.3l-1.1 3.1M208.6 815.9l-0.3 2.0M149.5 738.5l0.2 1.2M189.9 773.4l1.0 2.8M214.8 819.5l-1.0 1.2M217.7 822.5l0.9 1.6M166.1 737.4l-0.7 2.2M161.6 772.3l1.2 1.9M173.4 750.2l-0.9 2.3M168.9 737.3l1.2 1.5M199.6 752.3l-1.0 1.6M158.8 816.8l0.4 1.5M180.0 803.9l0.5 1.5M218.1 805.7l0.3 3.1M149.6 797.1l-0.7 1.7M145.4 805.0l0.2 1.5M222.4 791.0l0.6 1.5M215.9 760.4l0.6 1.3M153.7 836.4l0.4 0.9M192.9 735.2l-1.3 2.9M160.6 745.4l0.8 3.0M168.4 805.3l-0.7 0.9M148.7 835.8l1.3 1.9M167.4 746.2l1.5 2.6M199.3 772.0l-0.8 2.1M170.5 829.0l-0.4 3.3M149.5 702.3l0.8 1.4M181.4 730.9l-0.2 1.4M160.6 741.7l0.6 1.3M167.7 709.3l-0.3 1.3M193.4 746.8l0.4 3.2M159.7 775.7l-0.2 2.1M183.1 787.7l1.2 1.5M174.0 756.3l-0.6 2.1M150.5 720.4l-0.6 3.1M153.1 766.9l-0.9 1.5M177.9 789.6l-1.4 2.0M180.8 767.1l-1.8 2.9M183.3 772.0l-0.2 1.2M149.2 824.2l0.2 1.1M170.8 838.5l-1.0 1.7M218.0 722.6l-0.7 1.8M215.2 738.4l0.5 1.3M202.1 798.3l0.7 1.3M210.9 821.7l-0.2 2.3M210.4 735.2l-0.1 1.7M160.7 709.4l-0.9 1.7M192.9 818.1l-0.1 3.3M218.5 802.3l-0.0 1.8M184.7 748.1l-0.0 2.5M190.3 824.7l-0.5 1.8M154.3 770.9l-0.8 1.1M187.9 698.1l0.2 1.1M213.4 730.1l-0.5 1.4M221.4 828.4l-0.3 1.3M183.8 789.1l-0.7 1.4M214.5 808.6l1.2 2.7M144.8 786.1l-0.6 0.9M225.5 805.9l0.2 3.3M207.3 834.4l-0.9 1.9M158.2 736.0l0.8 0.9M217.0 715.6l1.4 2.2M162.7 800.7l-1.9 2.7M212.3 765.3l0.4 2.9M163.0 774.3l-0.5 1.4M178.8 816.4l-1.1 2.1M180.4 726.6l-0.4 1.2M185.8 814.5l-0.8 3.0M152.1 735.0l-0.5 2.4M225.2 708.2l1.2 1.8M189.9 768.1l-0.2 3.3M198.5 718.9l0.4 2.4M183.5 748.8l1.1 2.7M154.4 735.9l-0.6 1.5M220.1 773.1l-0.8 1.0M193.5 731.6l-0.7 3.0M223.0 741.2l2.1 2.7M151.8 735.0l0.2 2.4M228.3 822.2l-0.1 1.1M175.9 766.5l-1.0 1.9M222.5 704.5l0.8 2.5M193.3 757.1l-0.1 3.2M211.8 697.2l0.3 1.1M153.1 700.2l-0.4 1.0M164.7 735.2l-0.6 2.3M150.8 700.3l-0.4 2.6M157.7 703.5l-1.6 2.7M210.8 825.8l-1.5 2.1M186.5 799.2l-1.4 2.5M229.6 819.4l-0.7 0.9M206.3 692.5l0.7 1.0M169.9 831.8l0.7 2.0M170.1 706.6l0.6 3.0M154.5 710.4l-0.6 1.2M231.9 786.9l-0.3 2.7M184.4 806.4l-0.2 2.2M211.8 694.0l-0.3 1.2M223.1 781.9l-0.3 1.2M162.1 808.3l-0.4 1.0M196.9 764.2l-0.1 2.5M228.0 780.4l-1.9 2.4M140.2 804.3l-1.0 2.0M209.3 758.4l0.4 3.0M177.3 727.4l-0.5 1.2M196.7 774.8l1.7 2.6M185.7 812.5l0.7 1.2M200.0 756.6l-0.6 3.1M172.0 702.0l0.7 1.2M178.1 772.0l-1.6 2.6M195.0 827.7l0.4 1.5M225.1 707.4l1.0 1.8M146.3 799.9l1.0 3.2M162.5 770.1l0.6 2.3M214.4 717.4l0.8 1.6M192.7 739.7l0.9 2.7M222.4 828.6l-0.4 3.2M190.7 830.6l-0.4 1.6M150.0 834.9l-0.3 2.1M221.5 835.6l-0.1 1.5M159.7 743.8l0.1 2.8M143.7 800.3l1.2 3.3M225.9 764.6l0.6 0.9M226.0 834.2l-0.5 1.5M151.4 709.2l1.2 2.7M199.8 761.8l1.5 2.8M193.6 724.2l0.7 1.2M212.7 755.4l-1.0 1.3M141.3 699.2l-2.1 2.6M222.7 800.0l-1.1 2.0M144.5 825.4l-0.1 1.4M206.0 815.8l0.7 1.8M178.7 712.2l0.9 3.2M154.2 740.6l-1.7 2.5M218.6 711.4l-1.6 2.4M202.1 797.9l-1.0 2.5M146.4 781.2l0.1 2.8M204.1 781.8l0.4 1.1M166.1 733.8l0.2 2.7M186.1 798.5l0.2 1.1M200.3 770.8l-0.3 1.4M191.6 778.5l0.5 1.7M196.0 759.9l-1.2 1.7M208.4 792.8l0.1 2.4M164.3 712.1l-0.7 1.0M195.1 753.3l-0.3 2.0M157.6 826.9l-0.2 1.3M197.5 743.6l0.8 1.0M149.9 825.0l-1.1 2.8M230.1 799.5l0.2 1.8M140.6 816.6l1.2 3.0M194.6 777.0l0.3 1.6M230.6 701.7l-0.1 2.6M193.9 737.1l0.1 2.4M172.1 795.4l-1.3 1.8M215.6 719.9l0.4 1.6M190.8 783.6l-0.5 2.4M228.0 775.2l-0.4 1.4M147.8 792.8l1.0 1.6M182.5 718.6l0.2 3.3M185.9 830.2l-1.5 2.0M218.3 771.9l-0.6 1.6M179.0 769.1l0.0 1.4M194.1 733.8l0.0 2.0M184.2 707.1l1.5 2.4M152.3 779.7l-0.3 3.0M225.3 753.7l-0.5 1.0M186.9 742.9l-0.4 3.2M153.3 730.9l-0.5 1.5M171.5 768.6l0.6 2.5M192.7 774.5l-0.8 2.1M224.2 703.4l-1.3 2.3M201.6 731.4l-1.1 2.2M167.0 741.6l-0.8 1.7M207.9 806.8l1.3 2.1M190.0 762.4l0.8 1.1M223.9 808.6l-0.8 2.4M198.6 812.9l1.2 1.7M219.5 823.2l-0.1 1.3M204.8 800.2l1.5 2.8M192.2 743.9l-0.7 1.7M215.9 830.8l0.0 3.5M181.7 784.9l0.5 2.2M213.3 744.0l-1.5 2.6M144.0 744.6l0.3 1.9M197.1 715.9l-0.2 1.1M153.0 792.5l0.6 0.8M151.2 824.5l-1.4 1.6M170.7 780.6l-0.6 3.2M178.6 777.7l-0.2 3.1M162.5 811.6l-0.9 3.2M193.8 766.1l-1.7 2.5M194.6 739.6l0.4 1.4M159.3 714.5l-1.8 2.2M207.8 764.1l-2.0 2.7M185.6 740.3l-1.0 2.7M220.8 803.7l-0.1 2.6M153.9 776.5l0.3 1.7M215.6 780.9l1.7 2.9M198.6 769.8l1.4 1.8M195.0 755.5l0.5 0.9M155.4 716.0l0.9 1.4M145.3 694.8l0.8 2.6M209.9 743.1l1.3 2.6M190.0 696.5l1.1 1.6M207.9 806.7l1.4 1.8M141.0 740.5l-1.6 2.7M216.8 809.2l0.6 2.5M203.6 763.6l0.7 1.2M188.7 773.3l0.9 3.4M157.8 828.8l-1.3 2.3M210.7 740.4l-1.9 2.7M204.1 779.7l-1.0 3.2M152.4 782.8l-1.0 1.7M220.5 748.8l-0.5 2.9M193.2 834.5l0.3 3.1M197.1 737.6l1.0 2.6M187.3 766.4l-0.1 1.0M219.2 787.0l-0.5 1.2M228.9 735.3l-0.6 1.9M186.8 771.7l0.9 2.5M195.7 752.6l-1.4 2.2M207.5 830.5l1.6 1.9M189.6 776.0l-1.6 2.9M200.3 750.9l-0.9 2.5M162.9 762.3l1.9 2.5M179.8 784.8l0.4 1.1M193.7 780.3l1.1 2.9M140.1 735.9l-0.6 3.4M153.3 701.9l-0.4 1.2M226.8 744.0l-1.4 2.6M216.4 790.3l1.3 2.6M229.7 838.4l0.0 2.5M163.8 726.5l-1.0 2.1M159.7 734.6l1.8 2.5M199.5 807.7l-0.8 1.5M171.5 798.5l0.6 2.5M209.8 802.5l0.7 2.4M152.0 793.6l0.3 3.4M179.6 774.1l-0.7 2.0M153.4 802.5l0.1 1.5M225.0 831.9l-0.7 1.9M200.5 747.3l-0.9 1.2M198.5 748.8l-0.2 1.5M148.2 819.4l-0.3 1.5M143.7 833.6l-1.3 2.0M180.6 784.7l1.6 2.6M140.2 821.1l-0.6 2.1M167.2 710.9l1.3 1.8M187.6 770.7l-0.7 1.3M202.6 692.9l-0.7 1.6M191.5 724.7l-1.5 2.4M191.9 743.8l0.3 2.8M194.4 781.6l-1.2 1.9M202.7 771.6l0.4 1.5M176.9 834.2l0.3 1.4M146.5 768.0l0.7 1.1M179.3 696.9l-0.1 1.3M195.7 743.5l0.5 2.9M174.9 735.0l0.2 2.9M226.1 796.2l-0.6 1.8M148.1 833.2l-1.3 2.3M191.5 742.3l0.3 1.5M214.8 726.3l-0.4 1.1M204.2 827.1l1.0 2.8M145.6 800.6l-1.0 2.9M196.0 837.3l1.3 2.4M149.1 806.1l2.0 2.6M175.6 756.1l-0.2 1.7M215.4 747.1l1.6 3.0M212.6 744.0l-1.0 2.2M203.6 822.2l0.4 3.4M173.0 738.9l-1.1 2.8M189.5 741.7l0.7 1.7M201.4 799.6l-0.4 2.1M141.6 814.2l-0.4 1.7M229.2 835.8l-0.9 2.9M160.8 820.8l-0.6 1.1M213.1 767.3l0.4 1.7M205.8 793.1l-1.4 2.2M214.1 821.8l0.9 2.2M160.4 778.7l-1.0 1.7M190.7 771.2l-1.2 2.8M169.7 755.3l1.1 1.9M212.4 727.4l0.0 2.6M175.5 773.5l1.8 2.3M175.9 773.6l1.4 2.6M160.7 769.4l0.7 2.4M153.0 812.9l-1.6 2.0M182.2 712.4l-0.8 1.4M184.2 784.2l0.5 3.2M186.3 836.9l1.5 2.5M152.4 814.9l-1.3 2.4M154.7 724.9l-0.9 2.6M204.7 722.2l-0.5 1.5M196.0 746.1l-1.5 2.4M194.9 751.1l0.4 1.6M223.2 725.2l-1.6 2.7M205.8 821.1l0.2 1.1M180.3 760.5l-0.8 3.3M201.6 815.1l-1.8 2.8M201.8 830.2l1.0 2.3M196.1 782.7l1.1 2.2M191.1 822.2l-0.1 2.7M228.6 738.3l-0.2 2.4M206.5 800.9l0.7 1.5M226.7 753.1l0.7 2.4M223.0 760.6l-0.5 2.8M215.0 804.7l1.2 2.1M198.3 814.6l1.5 3.0M172.6 730.6l0.7 2.3M173.0 784.0l-1.0 1.6M230.3 702.8l-0.5 0.9M200.9 811.9l-1.8 2.7M164.3 766.6l1.0 2.0M198.8 771.4l-0.4 1.2M144.9 695.9l0.0 1.1M199.8 714.6l-0.1 1.7M231.1 825.0l1.5 2.2M172.9 793.0l0.8 3.1M186.8 759.0l-2.0 2.6M180.6 751.0l0.6 1.2M173.0 810.2l-0.7 1.3M230.0 758.5l0.3 1.8M144.6 781.3l0.3 1.6M180.2 731.7l-0.2 1.9M195.1 697.4l0.7 1.8M220.6 734.0l0.6 2.0M205.1 777.8l0.7 2.8M187.4 761.6l0.8 3.2M148.2 771.1l1.6 2.2M173.4 738.4l0.6 2.5M171.4 766.2l1.6 2.4M217.5 817.1l-0.7 1.3M195.4 720.7l0.6 1.4M221.8 695.0l0.6 1.1M157.7 821.7l-1.1 3.1M144.7 741.6l-0.9 1.9M145.0 825.5l-0.7 1.2M183.3 752.3l-0.1 3.0M163.5 692.8l1.6 2.6M209.1 747.7l-0.8 3.3M195.8 741.8l2.1 2.8M221.0 719.7l0.2 1.2M167.5 788.8l-1.2 2.8M188.7 752.0l-0.7 2.7M220.6 703.3l-1.2 2.5M230.0 764.8l0.7 2.7M172.6 756.9l0.6 1.3M178.5 808.5l-0.1 3.5M175.3 709.5l0.3 2.1M214.7 746.2l0.4 1.5M154.9 779.1l-0.4 1.3M222.3 726.3l-1.7 2.7M187.7 745.2l-0.7 1.7M169.2 704.5l-0.4 1.4M186.0 807.1l-0.2 2.7M179.0 764.6l-0.8 1.0M146.9 698.1l0.0 2.2M212.4 795.5l1.7 2.9M224.5 830.6l-0.6 2.0M191.4 752.9l0.5 1.0M220.5 691.4l-1.7 2.7M181.5 776.8l-0.0 1.4M179.3 731.0l-0.6 0.8M226.0 836.1l-1.0 2.0M150.1 802.3l-1.8 2.6M173.5 755.0l-0.1 2.0M216.9 714.7l-0.1 1.5M226.5 836.3l0.5 2.5M172.3 779.5l0.5 1.7M196.2 716.5l1.0 2.5M182.2 810.7l-1.9 2.5M215.4 699.1l-1.0 1.6M168.9 722.9l0.2 2.4M200.4 792.5l0.2 1.7M218.2 762.4l1.2 2.7M197.6 745.1l-1.1 2.6M174.0 771.5l1.1 2.8M208.8 791.7l0.6 1.3M220.9 690.4l-0.5 3.2M188.9 771.5l1.0 1.2M205.6 706.2l1.0 1.7M220.8 708.9l0.6 3.3M151.0 720.0l1.0 1.8M174.6 790.9l1.8 2.7M146.4 807.9l0.6 1.2M173.2 838.9l1.0 3.3M169.1 812.2l-1.1 2.3M173.6 721.4l0.0 1.8M227.4 830.7l0.7 1.0M178.6 758.9l-1.5 1.9M216.9 731.2l0.8 2.0M223.0 787.0l-1.5 1.8M170.3 818.9l-1.2 3.1M151.9 818.1l-0.5 1.1M223.2 714.9l0.1 2.8M189.8 690.0l-0.1 1.0M187.0 708.1l0.4 2.3M184.3 739.5l0.1 3.4M171.1 769.3l0.9 2.0M168.4 830.8l-1.0 2.9M225.2 697.5l-0.1 1.5M151.0 759.7l-1.9 2.5M143.9 836.2l-0.7 1.1M205.0 791.5l-0.4 3.2M186.8 768.6l-1.1 2.9M200.3 828.2l-0.8 1.7M142.2 818.9l-0.8 2.6M166.2 834.6l-0.1 1.0M177.0 783.5l-0.6 3.3M167.1 740.0l-1.8 2.6M217.2 818.3l1.2 2.3M149.6 791.1l-0.6 3.2M229.7 832.9l-1.2 2.5M209.4 819.1l-1.2 1.7M168.1 717.5l0.6 2.8" stroke="#2a2a2a" stroke-width="0.8" opacity="0.75" fill="none" stroke-linecap="round"/></g>
<path d="M101.0,768.0C103.4,765.9 109.8,764.1 114.4,764.0C119.0,763.9 122.3,765.9 128.5,767.5C134.7,769.1 146.2,772.3 151.4,773.6C156.6,774.9 157.1,774.2 159.7,775.5C162.3,776.8 165.0,779.0 167.0,781.5C169.0,784.0 170.2,786.6 171.8,790.6C173.4,794.6 174.6,801.2 176.4,805.8C178.2,810.4 180.1,814.5 182.4,818.0C184.7,821.5 186.5,824.5 190.0,827.0C193.5,829.5 203.6,831.8 203.6,833.0C203.6,834.2 194.6,834.4 190.0,834.0C185.4,833.6 180.1,832.2 176.0,830.8C171.9,829.4 169.6,826.7 165.5,825.6C161.4,824.5 155.8,824.3 151.4,824.0C147.0,823.7 139.8,825.8 139.0,824.0C138.2,822.2 145.2,816.0 146.5,813.0C147.8,810.0 147.4,809.5 146.5,806.0C145.6,802.5 143.1,796.3 141.0,792.0C138.9,787.7 136.7,783.0 134.0,780.0C131.3,777.0 128.7,775.2 125.0,774.0C121.3,772.8 116.2,772.6 112.0,773.0C107.8,773.4 101.8,777.3 100.0,776.5C98.2,775.7 98.6,770.1 101.0,768.0Z" fill="#e6e6e6" />
<g clip-path="url(#cbd)"><path d="M159.8 820.2l15.0 2.7M155.8 804.1l15.3 2.7M172.9 789.3l8.7 1.6M159.7 789.6l20.0 3.6M137.7 822.0l17.6 3.2M137.4 824.9l11.6 2.1M156.3 803.7l20.5 3.7M135.2 809.7l13.3 2.4M135.1 784.8l12.0 2.2M139.3 779.2l18.4 3.3M140.0 788.6l9.8 1.8M166.9 825.3l24.6 4.4M131.4 806.4l9.1 1.6M133.7 791.5l11.5 2.1M136.6 776.2l16.8 3.0M134.6 802.2l20.2 3.6M140.3 796.2l19.9 3.6M154.2 798.1l18.2 3.3M160.3 781.3l20.1 3.6M155.6 820.4l18.0 3.2M142.7 779.5l8.9 1.6M158.5 805.1l24.7 4.4M163.2 816.4l13.5 2.4M143.2 801.7l24.2 4.4M135.0 789.0l18.4 3.3M163.5 785.4l20.4 3.7" stroke="#555" stroke-width="0.8" fill="none" opacity="0.8"/><path d="M140,790 L160,800 L178,828 L150,826 Z" fill="#555" opacity="0.35"/></g>
<g clip-path="url(#cbd)"><ellipse cx="148" cy="804" rx="7" ry="20" fill="#222" opacity="0.55" filter="url(#bl2)"/></g>
<path d="M94.0,781.0C95.1,778.8 98.1,777.6 100.0,776.5C101.9,775.4 103.6,775.1 105.6,774.5C107.6,773.9 109.7,773.3 112.0,773.0C114.3,772.7 117.5,772.5 119.7,772.7C121.9,772.9 123.2,773.4 125.0,774.0C126.8,774.6 128.8,775.3 130.3,776.3C131.8,777.3 132.8,778.5 134.0,780.0C135.2,781.5 136.1,783.0 137.3,785.0C138.5,787.0 139.8,789.7 141.0,792.0C142.2,794.3 143.4,796.7 144.3,799.0C145.2,801.3 146.1,803.7 146.5,806.0C146.9,808.3 146.9,810.8 146.5,813.0C146.1,815.2 144.9,817.2 144.0,819.0C143.1,820.8 142.3,822.7 140.8,823.8C139.3,824.9 137.3,824.6 135.0,825.5C132.7,826.4 130.2,828.1 127.0,829.0C123.8,829.9 119.6,831.1 116.0,830.8C112.4,830.5 108.5,829.3 105.6,827.3C102.7,825.2 100.5,822.4 98.6,818.5C96.7,814.6 95.1,808.8 94.2,804.0C93.3,799.2 93.3,793.8 93.3,790.0C93.3,786.2 92.9,783.2 94.0,781.0Z" fill="#5c5c5c" />
<g clip-path="url(#ccd)"><path d="M118.2 782.0l24.2 1.2M101.4 788.6l25.8 1.3M101.5 809.3l28.2 1.4M96.4 787.0l10.7 0.5M95.6 797.1l18.8 0.9M105.6 779.9l10.1 0.5M118.2 779.4l26.2 1.3M125.9 798.1l18.8 0.9M94.9 784.0l8.4 0.4M104.3 813.5l22.3 1.1M125.8 815.6l27.0 1.3M129.4 828.6l16.9 0.8M104.9 780.5l10.5 0.5M106.6 808.5l27.5 1.4M122.3 820.2l20.1 1.0M112.7 790.2l15.3 0.8M105.8 788.7l12.3 0.6M114.8 815.1l9.0 0.4M117.5 827.5l20.9 1.0M122.9 817.2l8.3 0.4M121.3 819.2l16.9 0.8M121.7 795.9l27.1 1.4M111.6 807.1l14.7 0.7M102.0 792.6l12.4 0.6M94.2 812.7l23.1 1.2M112.7 818.4l28.9 1.4M119.6 818.9l18.6 0.9M125.3 786.7l15.5 0.8M97.4 820.3l29.3 1.5M103.5 777.0l26.8 1.3M105.1 814.3l21.6 1.1M114.3 786.1l17.2 0.9M127.4 816.6l10.3 0.5M99.4 795.3l24.5 1.2M95.8 785.4l8.8 0.4M111.2 827.6l13.0 0.6M102.3 793.8l24.7 1.2M111.1 779.8l26.4 1.3M105.9 799.3l16.5 0.8M95.0 809.1l22.3 1.1" stroke="#aaa" stroke-width="0.9" fill="none" opacity="0.7"/><g filter="url(#bl2)"><ellipse cx="115" cy="793" rx="13" ry="9" fill="#b0b0b0" opacity="0.5"/><path d="M132,776 L150,800 L150,826 L134,830 L128,800 Z" fill="#111" opacity="0.75"/><path d="M90,800 L98,826 L118,834 L100,812 Z" fill="#111" opacity="0.6"/></g></g>
<path d="M101.0,768.0C102.0,767.6 104.8,766.2 107.0,765.5C109.2,764.8 112.1,764.1 114.4,764.0C116.7,763.9 118.7,764.4 121.0,765.0C123.3,765.6 125.3,766.4 128.5,767.5C131.7,768.6 136.2,770.5 140.0,771.5C143.8,772.5 148.1,772.9 151.4,773.6C154.7,774.3 157.1,774.2 159.7,775.5C162.3,776.8 165.0,779.0 167.0,781.5C169.0,784.0 170.2,786.6 171.8,790.6C173.4,794.6 174.6,801.2 176.4,805.8C178.2,810.4 180.1,814.5 182.4,818.0C184.7,821.5 186.5,824.5 190.0,827.0C193.5,829.5 199.3,831.5 203.6,833.0C207.9,834.5 213.8,835.5 215.8,836.0" fill="none" stroke="#151515" stroke-width="1.6"/>
<path d="M94.0,781.0C95.0,780.2 98.1,777.6 100.0,776.5C101.9,775.4 103.6,775.1 105.6,774.5C107.6,773.9 109.7,773.3 112.0,773.0C114.3,772.7 117.5,772.5 119.7,772.7C121.9,772.9 123.2,773.4 125.0,774.0C126.8,774.6 128.8,775.3 130.3,776.3C131.8,777.3 133.4,779.4 134.0,780.0" fill="none" stroke="#222" stroke-width="1.2"/>
<path d="M109.0,30.0C107.7,33.3 103.5,43.7 101.0,50.0C98.5,56.3 96.5,61.7 94.0,68.0C91.5,74.3 88.3,82.0 86.0,88.0C83.7,94.0 82.0,99.5 80.0,104.0C78.0,108.5 76.2,111.8 74.0,115.0C71.8,118.2 69.3,121.1 67.0,123.0C64.7,124.9 62.2,125.8 60.0,126.5C57.8,127.2 56.5,127.6 54.0,127.0C51.5,126.4 47.7,124.2 45.0,123.0C42.3,121.8 40.3,119.7 38.0,120.0C35.7,120.3 33.2,122.5 31.0,125.0C28.8,127.5 26.5,131.2 25.0,135.0C23.5,138.8 22.7,143.0 22.0,148.0C21.3,153.0 20.9,160.0 20.7,165.0C20.5,170.0 19.8,173.0 21.0,178.0C22.2,183.0 25.1,188.7 28.0,195.0C30.9,201.3 36.3,209.5 38.7,216.0C41.1,222.5 41.6,227.5 42.6,234.0C43.6,240.5 43.9,245.1 45.0,255.0C46.1,264.9 47.8,281.9 49.0,293.6C50.2,305.3 50.8,311.4 52.0,325.0C53.2,338.6 54.7,358.2 56.0,375.0C57.3,391.8 58.2,409.2 60.0,426.0C61.8,442.8 64.5,459.3 67.0,476.0C69.5,492.7 72.0,508.3 75.0,526.0C78.0,543.7 81.5,563.2 85.0,582.0C88.5,600.8 93.3,625.2 96.0,639.0C98.7,652.8 99.8,656.5 101.0,665.0C102.2,673.5 103.3,681.5 103.5,690.0C103.7,698.5 102.8,707.2 102.0,716.0C101.2,724.8 99.8,734.2 98.6,743.0C97.4,751.8 95.9,761.7 95.0,769.0C94.1,776.3 93.4,781.2 93.3,787.0C93.2,792.8 93.3,798.8 94.2,804.0C95.1,809.2 96.7,814.6 98.6,818.5C100.5,822.4 102.7,825.2 105.6,827.3C108.5,829.3 112.4,830.5 116.0,830.8C119.6,831.1 123.2,830.1 127.0,829.0C130.8,827.9 134.9,824.8 139.0,824.0C143.1,823.2 147.0,823.7 151.4,824.0C155.8,824.3 161.4,824.5 165.5,825.6C169.6,826.7 172.2,829.3 176.0,830.8C179.8,832.3 184.0,833.4 188.0,834.4C192.0,835.4 195.9,836.0 200.0,836.5C204.1,837.0 209.1,838.2 212.7,837.6C216.3,837.0 219.6,834.8 221.8,833.0C224.0,831.2 224.9,829.0 226.0,827.0C227.1,825.0 228.0,823.8 228.6,821.0C229.2,818.2 229.3,813.8 229.4,810.0C229.5,806.2 229.6,802.0 229.4,798.0C229.2,794.0 228.6,789.8 228.0,786.0C227.4,782.2 226.7,778.8 226.0,775.5C225.3,772.2 224.0,767.6 223.6,766.0" fill="none" stroke="#111" stroke-width="2.2" stroke-linejoin="round"/>
<rect x="225" y="117.1" width="130" height="4.9" rx="1.5" fill="#000"/>
<rect x="204" y="226.6" width="122" height="4.9" rx="1.5" fill="#000"/>
<rect x="225" y="325.1" width="129" height="4.9" rx="1.5" fill="#000"/>
<rect x="204" y="606.8" width="76" height="4.9" rx="1.5" fill="#000"/>
<text x="361.4" y="115.4" font-family="Liberation Sans, sans-serif" font-weight="bold" font-size="36" fill="#0d0d0d" textLength="182.8" lengthAdjust="spacingAndGlyphs">Obturator</text><text x="372.4" y="146.3" font-family="Liberation Sans, sans-serif" font-weight="bold" font-size="36" fill="#0d0d0d" textLength="163.1" lengthAdjust="spacingAndGlyphs">externus</text><text x="341.6" y="239.5" font-family="Liberation Sans, sans-serif" font-weight="bold" font-size="36" fill="#0d0d0d" textLength="294" lengthAdjust="spacingAndGlyphs">Adductor brevis</text><text x="365.2" y="322.4" font-family="Liberation Sans, sans-serif" font-weight="bold" font-size="36" fill="#0d0d0d" textLength="172.1" lengthAdjust="spacingAndGlyphs">Adductor</text><text x="389.8" y="358.5" font-family="Liberation Sans, sans-serif" font-weight="bold" font-size="36" fill="#0d0d0d" textLength="122.6" lengthAdjust="spacingAndGlyphs">longus</text><text x="295" y="605.5" font-family="Liberation Sans, sans-serif" font-weight="bold" font-size="36" fill="#0d0d0d" textLength="171" lengthAdjust="spacingAndGlyphs">Adductor</text><text x="305.2" y="638.4" font-family="Liberation Sans, sans-serif" font-weight="bold" font-size="36" fill="#0d0d0d" textLength="144.3" lengthAdjust="spacingAndGlyphs">magnus</text>
<circle cx="383.2" cy="829.7" r="18.5" fill="none" stroke="#8a8a8a" stroke-width="5.5"/><path d="M389.2,824.7 A8.4,8.4 0 1 0 389.2,835.9" fill="none" stroke="#8a8a8a" stroke-width="5"/><text x="416.8" y="828.4" font-family="Liberation Sans, sans-serif" font-weight="bold" font-size="23" fill="#878787" textLength="183.7" lengthAdjust="spacingAndGlyphs">teachmeanatomy</text><text x="416.8" y="846.2" font-family="Liberation Sans, sans-serif" font-size="11.5" fill="#b0b0b0" textLength="238.6" lengthAdjust="spacingAndGlyphs">The #1 Applied Human Anatomy Site on the Web.</text>
</svg>
</body></html>
